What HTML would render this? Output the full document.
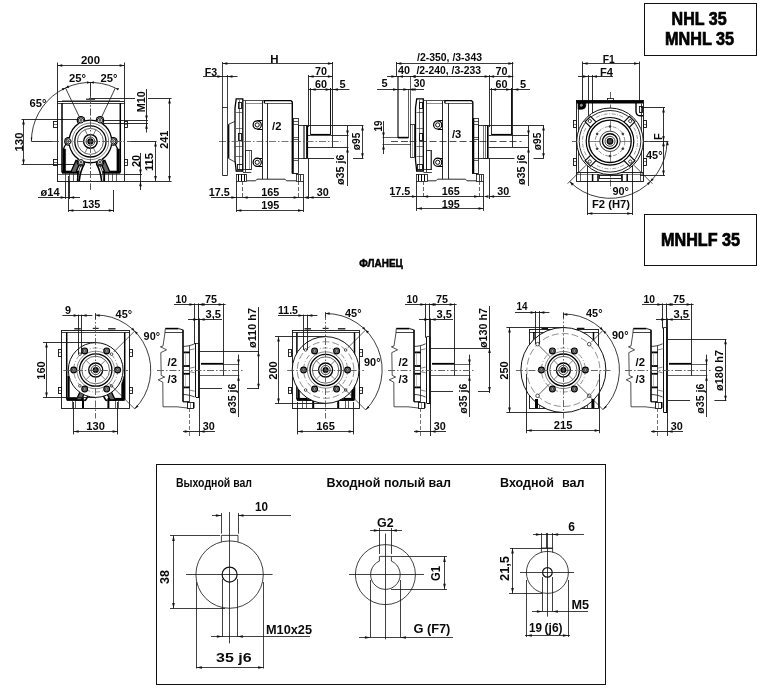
<!DOCTYPE html>
<html><head><meta charset="utf-8"><title>NHL 35</title>
<style>
html,body{margin:0;padding:0;background:#fff;}
body{width:770px;height:696px;overflow:hidden;}
svg{display:block;font-family:"Liberation Sans",sans-serif;opacity:0.999;will-change:transform;}
</style></head><body>
<svg width="770" height="696" viewBox="0 0 770 696">
<rect x="0" y="0" width="770" height="696" fill="#fff"/>
<rect x="644.50" y="3.50" width="112.00" height="52.00" stroke="#111" stroke-width="1.0" fill="none"/>
<text x="699.10" y="24.80" font-size="17.5" text-anchor="middle" font-weight="bold" fill="#000" stroke="#000" stroke-width="0.7" textLength="55" lengthAdjust="spacingAndGlyphs">NHL 35</text>
<text x="699.50" y="45.40" font-size="17.5" text-anchor="middle" font-weight="bold" fill="#000" stroke="#000" stroke-width="0.7" textLength="69" lengthAdjust="spacingAndGlyphs">MNHL 35</text>
<rect x="644.50" y="214.50" width="112.00" height="51.00" stroke="#111" stroke-width="1.0" fill="none"/>
<text x="700.50" y="245.80" font-size="17.5" text-anchor="middle" font-weight="bold" fill="#000" stroke="#000" stroke-width="0.7" textLength="79" lengthAdjust="spacingAndGlyphs">MNHLF 35</text>
<text x="381.10" y="267.20" font-size="11.3" text-anchor="middle" font-weight="bold" fill="#000" stroke="#000" stroke-width="0.5" textLength="43.5" lengthAdjust="spacingAndGlyphs">ФЛАНЕЦ</text>
<line x1="57.50" y1="62.50" x2="57.50" y2="101.00" stroke="#1a1a1a" stroke-width="0.9"/>
<line x1="124.50" y1="62.50" x2="124.50" y2="101.00" stroke="#1a1a1a" stroke-width="0.9"/>
<line x1="57.30" y1="65.50" x2="124.60" y2="65.50" stroke="#1a1a1a" stroke-width="0.85"/>
<polygon points="57.30,65.50 62.30,64.20 62.30,66.80" fill="#111"/>
<polygon points="124.60,65.50 119.60,66.80 119.60,64.20" fill="#111"/>
<text x="90.50" y="64.30" font-size="11" text-anchor="middle" font-weight="bold" fill="#0a0a0a" stroke="#0a0a0a" stroke-width="0.0" textLength="19" lengthAdjust="spacingAndGlyphs">200</text>
<path d="M31.40,141.40 A59.00,59.00 0 0 1 115.33,87.93" stroke="#1a1a1a" stroke-width="0.85" fill="none" />
<polygon points="31.50,141.40 30.70,137.40 32.30,137.40" fill="#111"/>
<polygon points="65.47,87.93 62.84,90.59 61.74,88.23" fill="#111"/>
<polygon points="65.47,87.93 68.09,85.27 69.19,87.63" fill="#111"/>
<polygon points="115.33,87.93 119.06,88.23 117.96,90.59" fill="#111"/>
<polygon points="90.40,82.50 93.90,81.20 93.90,83.80" fill="#111"/>
<polygon points="90.40,82.50 86.90,83.80 86.90,81.20" fill="#111"/>
<line x1="65.47" y1="87.93" x2="81.00" y2="120.40" stroke="#1a1a1a" stroke-width="0.85"/>
<line x1="115.33" y1="87.93" x2="100.00" y2="120.40" stroke="#1a1a1a" stroke-width="0.85"/>
<line x1="90.50" y1="82.00" x2="90.50" y2="96.00" stroke="#1a1a1a" stroke-width="0.9"/>
<line x1="31.50" y1="141.50" x2="52.00" y2="141.50" stroke="#1a1a1a" stroke-width="0.9"/>
<text x="69.00" y="82.40" font-size="11" text-anchor="start" font-weight="bold" fill="#0a0a0a" stroke="#0a0a0a" stroke-width="0.0" textLength="17" lengthAdjust="spacingAndGlyphs">25°</text>
<text x="100.60" y="82.40" font-size="11" text-anchor="start" font-weight="bold" fill="#0a0a0a" stroke="#0a0a0a" stroke-width="0.0" textLength="17" lengthAdjust="spacingAndGlyphs">25°</text>
<text x="29.60" y="106.80" font-size="11" text-anchor="start" font-weight="bold" fill="#0a0a0a" stroke="#0a0a0a" stroke-width="0.0" textLength="17" lengthAdjust="spacingAndGlyphs">65°</text>
<line x1="90.50" y1="96.00" x2="90.50" y2="190.00" stroke="#555" stroke-width="0.9" stroke-dasharray="7 2 1.5 2"/>
<line x1="52.00" y1="141.50" x2="131.00" y2="141.50" stroke="#555" stroke-width="0.9" stroke-dasharray="7 2 1.5 2"/>
<line x1="21.50" y1="119.50" x2="80.00" y2="119.50" stroke="#1a1a1a" stroke-width="0.9"/>
<line x1="21.50" y1="164.50" x2="74.00" y2="164.50" stroke="#1a1a1a" stroke-width="0.9"/>
<line x1="23.50" y1="119.40" x2="23.50" y2="164.60" stroke="#1a1a1a" stroke-width="0.85"/>
<polygon points="23.50,119.40 24.80,124.40 22.20,124.40" fill="#111"/>
<polygon points="23.50,164.60 22.20,159.60 24.80,159.60" fill="#111"/>
<text x="22.60" y="142.00" font-size="11" text-anchor="middle" font-weight="bold" fill="#0a0a0a" stroke="#0a0a0a" stroke-width="0.0" transform="rotate(-90 22.60 142.00)" textLength="19" lengthAdjust="spacingAndGlyphs">130</text>
<line x1="89.00" y1="98.50" x2="135.00" y2="98.50" stroke="#1a1a1a" stroke-width="0.9"/>
<line x1="148.00" y1="98.50" x2="171.50" y2="98.50" stroke="#1a1a1a" stroke-width="0.9"/>
<line x1="101.00" y1="120.50" x2="148.00" y2="120.50" stroke="#1a1a1a" stroke-width="0.9"/>
<line x1="101.00" y1="123.50" x2="148.00" y2="123.50" stroke="#1a1a1a" stroke-width="0.9"/>
<line x1="146.50" y1="89.00" x2="146.50" y2="132.50" stroke="#1a1a1a" stroke-width="0.9"/>
<polygon points="146.50,120.40 145.20,115.40 147.80,115.40" fill="#111"/>
<polygon points="146.50,123.80 147.80,128.80 145.20,128.80" fill="#111"/>
<text x="145.40" y="101.70" font-size="11" text-anchor="middle" font-weight="bold" fill="#0a0a0a" stroke="#0a0a0a" stroke-width="0.0" transform="rotate(-90 145.40 101.70)" textLength="21" lengthAdjust="spacingAndGlyphs">M10</text>
<line x1="169.50" y1="98.40" x2="169.50" y2="181.00" stroke="#1a1a1a" stroke-width="0.85"/>
<polygon points="169.50,98.40 170.80,103.40 168.20,103.40" fill="#111"/>
<polygon points="169.50,181.00 168.20,176.00 170.80,176.00" fill="#111"/>
<line x1="124.60" y1="181.50" x2="171.50" y2="181.50" stroke="#1a1a1a" stroke-width="0.9"/>
<text x="167.80" y="139.70" font-size="11" text-anchor="middle" font-weight="bold" fill="#0a0a0a" stroke="#0a0a0a" stroke-width="0.0" transform="rotate(-90 167.80 139.70)" textLength="18" lengthAdjust="spacingAndGlyphs">241</text>
<line x1="131.00" y1="141.50" x2="156.50" y2="141.50" stroke="#1a1a1a" stroke-width="0.9"/>
<line x1="155.50" y1="141.40" x2="155.50" y2="181.00" stroke="#1a1a1a" stroke-width="0.85"/>
<polygon points="155.50,141.40 156.80,146.40 154.20,146.40" fill="#111"/>
<polygon points="155.50,181.00 154.20,176.00 156.80,176.00" fill="#111"/>
<text x="153.20" y="162.00" font-size="11" text-anchor="middle" font-weight="bold" fill="#0a0a0a" stroke="#0a0a0a" stroke-width="0.0" transform="rotate(-90 153.20 162.00)" textLength="18" lengthAdjust="spacingAndGlyphs">115</text>
<line x1="124.60" y1="174.50" x2="142.00" y2="174.50" stroke="#1a1a1a" stroke-width="0.9"/>
<line x1="140.50" y1="153.00" x2="140.50" y2="190.00" stroke="#1a1a1a" stroke-width="0.9"/>
<polygon points="140.50,174.40 139.20,169.40 141.80,169.40" fill="#111"/>
<polygon points="140.50,181.20 141.80,186.20 139.20,186.20" fill="#111"/>
<text x="139.80" y="161.00" font-size="11" text-anchor="middle" font-weight="bold" fill="#0a0a0a" stroke="#0a0a0a" stroke-width="0.0" transform="rotate(-90 139.80 161.00)" textLength="12" lengthAdjust="spacingAndGlyphs">20</text>
<line x1="38.00" y1="197.50" x2="80.00" y2="197.50" stroke="#1a1a1a" stroke-width="0.9"/>
<line x1="65.50" y1="181.00" x2="65.50" y2="199.00" stroke="#1a1a1a" stroke-width="0.9"/>
<line x1="69.50" y1="181.00" x2="69.50" y2="199.00" stroke="#1a1a1a" stroke-width="0.9"/>
<polygon points="65.60,197.50 60.60,198.80 60.60,196.20" fill="#111"/>
<polygon points="69.20,197.50 74.20,196.20 74.20,198.80" fill="#111"/>
<text x="40.60" y="196.40" font-size="11" text-anchor="start" font-weight="bold" fill="#0a0a0a" stroke="#0a0a0a" stroke-width="0.0" textLength="19" lengthAdjust="spacingAndGlyphs">ø14</text>
<line x1="68.50" y1="176.00" x2="68.50" y2="212.00" stroke="#1a1a1a" stroke-width="0.9"/>
<line x1="113.50" y1="190.00" x2="113.50" y2="212.00" stroke="#1a1a1a" stroke-width="0.9"/>
<line x1="68.40" y1="210.50" x2="113.80" y2="210.50" stroke="#1a1a1a" stroke-width="0.85"/>
<polygon points="68.40,210.50 73.40,209.20 73.40,211.80" fill="#111"/>
<polygon points="113.80,210.50 108.80,211.80 108.80,209.20" fill="#111"/>
<text x="91.20" y="208.40" font-size="11" text-anchor="middle" font-weight="bold" fill="#0a0a0a" stroke="#0a0a0a" stroke-width="0.0" textLength="18" lengthAdjust="spacingAndGlyphs">135</text>
<rect x="57.50" y="101.50" width="67.00" height="80.00" stroke="#111" stroke-width="0.9" fill="none"/>
<line x1="57.30" y1="103.50" x2="124.60" y2="103.50" stroke="#111" stroke-width="0.8"/>
<line x1="86.00" y1="99.20" x2="95.00" y2="99.20" stroke="#222" stroke-width="1.2"/>
<line x1="62.00" y1="100.50" x2="120.00" y2="100.50" stroke="#444" stroke-width="0.6"/>
<line x1="62.00" y1="103.00" x2="62.00" y2="172.50" stroke="#000" stroke-width="1.5"/>
<line x1="120.30" y1="103.00" x2="120.30" y2="172.50" stroke="#000" stroke-width="1.5"/>
<line x1="62.00" y1="172.20" x2="79.50" y2="172.20" stroke="#000" stroke-width="3.0"/>
<line x1="102.50" y1="172.20" x2="120.30" y2="172.20" stroke="#000" stroke-width="3.0"/>
<path d="M63,149 L65.6,149 L65.6,171.5 L63,171.5 Z" stroke="#000" stroke-width="0.5" fill="#000" />
<path d="M119.5,149 L116.9,149 L116.9,171.5 L119.5,171.5 Z" stroke="#000" stroke-width="0.5" fill="#000" />
<rect x="53.50" y="121.50" width="4.00" height="6.00" stroke="#111" stroke-width="0.9" fill="none"/>
<rect x="124.50" y="121.50" width="3.00" height="6.00" stroke="#111" stroke-width="0.9" fill="none"/>
<line x1="54.00" y1="124.50" x2="57.00" y2="124.50" stroke="#1a1a1a" stroke-width="0.6"/>
<line x1="125.00" y1="124.50" x2="127.50" y2="124.50" stroke="#1a1a1a" stroke-width="0.6"/>
<rect x="53.50" y="159.50" width="4.00" height="6.00" stroke="#111" stroke-width="0.9" fill="none"/>
<rect x="124.50" y="159.50" width="3.00" height="6.00" stroke="#111" stroke-width="0.9" fill="none"/>
<line x1="54.00" y1="162.50" x2="57.00" y2="162.50" stroke="#1a1a1a" stroke-width="0.6"/>
<line x1="125.00" y1="162.50" x2="127.50" y2="162.50" stroke="#1a1a1a" stroke-width="0.6"/>
<line x1="57.30" y1="174.50" x2="124.60" y2="174.50" stroke="#1a1a1a" stroke-width="0.7"/>
<line x1="65.50" y1="172.50" x2="65.50" y2="181.00" stroke="#1a1a1a" stroke-width="0.7"/>
<line x1="69.50" y1="172.50" x2="69.50" y2="181.00" stroke="#1a1a1a" stroke-width="0.7"/>
<line x1="77.80" y1="172.50" x2="77.80" y2="181.00" stroke="#000" stroke-width="1.6"/>
<line x1="104.30" y1="172.50" x2="104.30" y2="181.00" stroke="#000" stroke-width="1.6"/>
<line x1="73.50" y1="172.50" x2="73.50" y2="181.00" stroke="#1a1a1a" stroke-width="0.7"/>
<line x1="108.50" y1="172.50" x2="108.50" y2="181.00" stroke="#1a1a1a" stroke-width="0.7"/>
<line x1="112.50" y1="172.50" x2="112.50" y2="181.00" stroke="#1a1a1a" stroke-width="0.7"/>
<line x1="116.50" y1="172.50" x2="116.50" y2="181.00" stroke="#1a1a1a" stroke-width="0.7"/>
<path d="M75.9,160.4 C73.9,165.4 72.4,168.4 70.80000000000001,172.4 L76.0,172.4 C77.0,169.4 78.4,166.4 80.4,162.4 Z" fill="#666" stroke="#000" stroke-width="1.3"/>
<path d="M84.30000000000001,163.9 C81.80000000000001,168.4 79.80000000000001,174.4 79.2,181.0" stroke="#000" stroke-width="1.6" fill="none" />
<path d="M81.4,164.4 C79.4,168.4 77.9,171.4 77.2,181.0" stroke="#111" stroke-width="0.8" fill="none" />
<path d="M104.9,160.4 C106.9,165.4 108.4,168.4 110.0,172.4 L104.80000000000001,172.4 C103.80000000000001,169.4 102.4,166.4 100.4,162.4 Z" fill="#666" stroke="#000" stroke-width="1.3"/>
<path d="M96.5,163.9 C99.0,168.4 101.0,174.4 101.60000000000001,181.0" stroke="#000" stroke-width="1.6" fill="none" />
<path d="M99.4,164.4 C101.4,168.4 102.9,171.4 103.60000000000001,181.0" stroke="#111" stroke-width="0.8" fill="none" />
<circle cx="81.00" cy="120.40" r="4.30" stroke="#000" stroke-width="0" fill="#000"/>
<circle cx="100.00" cy="120.40" r="4.30" stroke="#000" stroke-width="0" fill="#000"/>
<circle cx="113.40" cy="141.40" r="4.30" stroke="#000" stroke-width="0" fill="#000"/>
<circle cx="100.00" cy="162.20" r="4.30" stroke="#000" stroke-width="0" fill="#000"/>
<circle cx="81.00" cy="162.20" r="4.30" stroke="#000" stroke-width="0" fill="#000"/>
<circle cx="68.40" cy="141.40" r="4.30" stroke="#000" stroke-width="0" fill="#000"/>
<circle cx="90.40" cy="141.40" r="22.00" stroke="#000" stroke-width="0" fill="#000"/>
<circle cx="81.00" cy="120.40" r="3.10" stroke="#fff" stroke-width="0" fill="#fff"/>
<circle cx="100.00" cy="120.40" r="3.10" stroke="#fff" stroke-width="0" fill="#fff"/>
<circle cx="113.40" cy="141.40" r="3.10" stroke="#fff" stroke-width="0" fill="#fff"/>
<circle cx="100.00" cy="162.20" r="3.10" stroke="#fff" stroke-width="0" fill="#fff"/>
<circle cx="81.00" cy="162.20" r="3.10" stroke="#fff" stroke-width="0" fill="#fff"/>
<circle cx="68.40" cy="141.40" r="3.10" stroke="#fff" stroke-width="0" fill="#fff"/>
<circle cx="90.40" cy="141.40" r="20.70" stroke="#fff" stroke-width="0" fill="#fff"/>
<circle cx="81.00" cy="120.40" r="2.60" stroke="#000" stroke-width="1.0" fill="#fff"/>
<circle cx="81.00" cy="120.40" r="1.00" stroke="#111" stroke-width="0.7" fill="#999"/>
<circle cx="100.00" cy="120.40" r="2.60" stroke="#000" stroke-width="1.0" fill="#fff"/>
<circle cx="100.00" cy="120.40" r="1.00" stroke="#111" stroke-width="0.7" fill="#999"/>
<circle cx="113.40" cy="141.40" r="2.60" stroke="#000" stroke-width="1.0" fill="#fff"/>
<circle cx="113.40" cy="141.40" r="1.00" stroke="#111" stroke-width="0.7" fill="#999"/>
<circle cx="100.00" cy="162.20" r="2.60" stroke="#000" stroke-width="1.0" fill="#fff"/>
<circle cx="100.00" cy="162.20" r="1.00" stroke="#111" stroke-width="0.7" fill="#999"/>
<circle cx="81.00" cy="162.20" r="2.60" stroke="#000" stroke-width="1.0" fill="#fff"/>
<circle cx="81.00" cy="162.20" r="1.00" stroke="#111" stroke-width="0.7" fill="#999"/>
<circle cx="68.40" cy="141.40" r="2.60" stroke="#000" stroke-width="1.0" fill="#fff"/>
<circle cx="68.40" cy="141.40" r="1.00" stroke="#111" stroke-width="0.7" fill="#999"/>
<circle cx="90.40" cy="141.40" r="18.30" stroke="#333" stroke-width="0.6" fill="none"/>
<circle cx="90.40" cy="141.40" r="15.60" stroke="#000" stroke-width="1.3" fill="none"/>
<circle cx="90.40" cy="141.40" r="13.00" stroke="#222" stroke-width="0.7" fill="none"/>
<circle cx="90.40" cy="141.40" r="6.80" stroke="#000" stroke-width="1.4" fill="none"/>
<circle cx="90.40" cy="141.40" r="4.40" stroke="#111" stroke-width="0.8" fill="none"/>
<circle cx="90.40" cy="141.40" r="2.40" stroke="#000" stroke-width="1.4" fill="#444"/>
<line x1="87.44" y1="135.06" x2="84.91" y2="129.62" stroke="#222" stroke-width="0.6"/>
<line x1="93.36" y1="135.06" x2="95.89" y2="129.62" stroke="#222" stroke-width="0.6"/>
<line x1="93.36" y1="147.74" x2="95.89" y2="153.18" stroke="#222" stroke-width="0.6"/>
<line x1="87.44" y1="147.74" x2="84.91" y2="153.18" stroke="#222" stroke-width="0.6"/>
<path d="M66,144 C64.6,146 63.6,148 63.2,150" stroke="#000" stroke-width="1.3" fill="none" />
<path d="M115,144 C116.4,146 117.4,148 117.8,150" stroke="#000" stroke-width="1.3" fill="none" />
<line x1="90.50" y1="96.00" x2="90.50" y2="190.00" stroke="#555" stroke-width="0.9" stroke-dasharray="7 2 1.5 2"/>
<line x1="52.00" y1="141.50" x2="131.00" y2="141.50" stroke="#555" stroke-width="0.9" stroke-dasharray="7 2 1.5 2"/>
<path d="M236.2,98.8 L242.8,98.8 L242.8,171 L236.2,171 L235,160 L235,108 Z" stroke="#000" stroke-width="1.3" fill="none" />
<line x1="239.50" y1="100.00" x2="239.50" y2="170.00" stroke="#1a1a1a" stroke-width="0.6"/>
<rect x="238.50" y="102.50" width="3.00" height="6.00" stroke="#111" stroke-width="0.9" fill="none"/>
<rect x="238.50" y="133.50" width="3.00" height="7.00" stroke="#111" stroke-width="0.9" fill="none"/>
<rect x="237.50" y="164.50" width="5.00" height="5.00" stroke="#111" stroke-width="0.9" fill="none"/>
<line x1="236.00" y1="112.50" x2="242.80" y2="112.50" stroke="#1a1a1a" stroke-width="0.6"/>
<line x1="236.00" y1="128.50" x2="242.80" y2="128.50" stroke="#1a1a1a" stroke-width="0.6"/>
<line x1="236.00" y1="146.50" x2="242.80" y2="146.50" stroke="#1a1a1a" stroke-width="0.6"/>
<line x1="236.00" y1="156.50" x2="242.80" y2="156.50" stroke="#1a1a1a" stroke-width="0.6"/>
<line x1="243.00" y1="100.50" x2="264.00" y2="100.50" stroke="#222" stroke-width="0.8"/>
<line x1="246.00" y1="103.50" x2="262.40" y2="103.50" stroke="#444" stroke-width="0.6"/>
<line x1="245.50" y1="100.80" x2="245.50" y2="172.00" stroke="#111" stroke-width="0.8"/>
<line x1="262.50" y1="101.00" x2="262.50" y2="179.00" stroke="#111" stroke-width="0.9"/>
<line x1="267.50" y1="103.00" x2="267.50" y2="179.00" stroke="#111" stroke-width="0.9"/>
<path d="M264.4,103.2 L264.4,100.6 L291,100.6 L292.3,102 L292.3,173.5" stroke="#000" stroke-width="1.4" fill="none" />
<line x1="264.40" y1="103.50" x2="292.00" y2="103.50" stroke="#1a1a1a" stroke-width="0.7"/>
<circle cx="257.20" cy="124.90" r="4.10" stroke="#000" stroke-width="1.2" fill="none"/>
<circle cx="257.20" cy="124.90" r="2.10" stroke="#111" stroke-width="1.0" fill="none"/>
<line x1="257.20" y1="120.50" x2="262.40" y2="120.50" stroke="#000" stroke-width="1.0"/>
<line x1="257.20" y1="129.50" x2="262.40" y2="129.50" stroke="#000" stroke-width="1.0"/>
<circle cx="257.20" cy="162.30" r="4.10" stroke="#000" stroke-width="1.2" fill="none"/>
<circle cx="257.20" cy="162.30" r="2.10" stroke="#111" stroke-width="1.0" fill="none"/>
<line x1="257.20" y1="158.50" x2="262.40" y2="158.50" stroke="#000" stroke-width="1.0"/>
<line x1="257.20" y1="166.50" x2="262.40" y2="166.50" stroke="#000" stroke-width="1.0"/>
<rect x="245.50" y="150.50" width="6.00" height="19.00" stroke="#111" stroke-width="0.8" fill="none"/>
<line x1="249.50" y1="151.00" x2="249.50" y2="169.00" stroke="#555" stroke-width="0.5"/>
<line x1="243.00" y1="172.50" x2="251.40" y2="172.50" stroke="#1a1a1a" stroke-width="0.8"/>
<line x1="243.00" y1="169.50" x2="251.40" y2="169.50" stroke="#1a1a1a" stroke-width="0.8"/>
<rect x="292.50" y="118.50" width="6.00" height="55.00" stroke="#111" stroke-width="0.8" fill="none"/>
<line x1="293.00" y1="118.40" x2="293.00" y2="173.60" stroke="#000" stroke-width="1.5"/>
<line x1="292.30" y1="121.50" x2="298.00" y2="121.50" stroke="#1a1a1a" stroke-width="0.7"/>
<line x1="292.30" y1="124.50" x2="298.00" y2="124.50" stroke="#1a1a1a" stroke-width="0.7"/>
<line x1="292.30" y1="137.50" x2="298.00" y2="137.50" stroke="#1a1a1a" stroke-width="0.7"/>
<line x1="292.30" y1="139.50" x2="298.00" y2="139.50" stroke="#1a1a1a" stroke-width="0.7"/>
<line x1="292.30" y1="158.50" x2="298.00" y2="158.50" stroke="#1a1a1a" stroke-width="0.7"/>
<line x1="292.30" y1="160.50" x2="298.00" y2="160.50" stroke="#1a1a1a" stroke-width="0.7"/>
<rect x="298.50" y="125.50" width="8.00" height="33.00" stroke="#111" stroke-width="0.8" fill="none"/>
<line x1="303.50" y1="125.50" x2="303.50" y2="158.00" stroke="#1a1a1a" stroke-width="0.6"/>
<line x1="304.50" y1="125.50" x2="304.50" y2="158.00" stroke="#1a1a1a" stroke-width="0.6"/>
<line x1="307.30" y1="125.50" x2="307.30" y2="158.00" stroke="#000" stroke-width="1.6"/>
<rect x="236.50" y="174.50" width="10.00" height="7.00" stroke="#111" stroke-width="0.8" fill="none"/>
<line x1="238.50" y1="174.50" x2="238.50" y2="181.00" stroke="#000" stroke-width="1.0"/>
<line x1="241.50" y1="174.50" x2="241.50" y2="181.00" stroke="#000" stroke-width="1.0"/>
<line x1="244.50" y1="174.50" x2="244.50" y2="181.00" stroke="#000" stroke-width="1.0"/>
<rect x="296.50" y="174.50" width="7.00" height="7.00" stroke="#111" stroke-width="0.8" fill="none"/>
<line x1="298.50" y1="174.50" x2="298.50" y2="181.00" stroke="#111" stroke-width="0.8"/>
<line x1="300.50" y1="174.50" x2="300.50" y2="181.00" stroke="#111" stroke-width="0.8"/>
<path d="M246.8,180.8 L255.5,180.8 L257,179.2 L285,179.2 L286.5,180.8 L296.2,180.8" stroke="#111" stroke-width="0.9" fill="none" />
<line x1="292.30" y1="173.50" x2="298.00" y2="173.50" stroke="#1a1a1a" stroke-width="0.8"/>
<text x="272.10" y="129.80" font-size="11.5" text-anchor="start" font-weight="bold" fill="#0a0a0a" stroke="#0a0a0a" stroke-width="0.0" textLength="9.3" lengthAdjust="spacingAndGlyphs">/2</text>
<line x1="310.60" y1="134.80" x2="330.60" y2="134.80" stroke="#000" stroke-width="1.8"/>
<line x1="308.00" y1="147.50" x2="348.50" y2="147.50" stroke="#1a1a1a" stroke-width="0.9"/>
<line x1="308.00" y1="135.50" x2="310.60" y2="135.50" stroke="#1a1a1a" stroke-width="0.9"/>
<line x1="303.00" y1="125.50" x2="363.50" y2="125.50" stroke="#1a1a1a" stroke-width="0.9"/>
<line x1="303.00" y1="158.50" x2="334.00" y2="158.50" stroke="#1a1a1a" stroke-width="0.9"/>
<line x1="330.60" y1="135.50" x2="348.50" y2="135.50" stroke="#1a1a1a" stroke-width="0.9"/>
<line x1="308.50" y1="75.00" x2="308.50" y2="127.00" stroke="#1a1a1a" stroke-width="0.9"/>
<line x1="308.50" y1="158.00" x2="308.50" y2="199.00" stroke="#1a1a1a" stroke-width="0.9"/>
<line x1="310.50" y1="88.00" x2="310.50" y2="135.00" stroke="#1a1a1a" stroke-width="0.9"/>
<line x1="330.50" y1="88.00" x2="330.50" y2="135.00" stroke="#111" stroke-width="1.0"/>
<line x1="332.50" y1="62.00" x2="332.50" y2="147.20" stroke="#1a1a1a" stroke-width="0.9"/>
<line x1="308.60" y1="76.50" x2="332.90" y2="76.50" stroke="#1a1a1a" stroke-width="0.85"/>
<polygon points="308.60,76.50 313.60,75.20 313.60,77.80" fill="#111"/>
<polygon points="332.90,76.50 327.90,77.80 327.90,75.20" fill="#111"/>
<text x="321.00" y="75.00" font-size="11" text-anchor="middle" font-weight="bold" fill="#0a0a0a" stroke="#0a0a0a" stroke-width="0.0" textLength="12" lengthAdjust="spacingAndGlyphs">70</text>
<line x1="308.60" y1="89.50" x2="349.50" y2="89.50" stroke="#1a1a1a" stroke-width="0.9"/>
<polygon points="310.60,89.50 315.60,88.20 315.60,90.80" fill="#111"/>
<polygon points="330.60,89.50 325.60,90.80 325.60,88.20" fill="#111"/>
<polygon points="332.90,89.50 337.90,88.20 337.90,90.80" fill="#111"/>
<text x="321.00" y="88.00" font-size="11" text-anchor="middle" font-weight="bold" fill="#0a0a0a" stroke="#0a0a0a" stroke-width="0.0" textLength="12" lengthAdjust="spacingAndGlyphs">60</text>
<text x="342.50" y="88.00" font-size="11" text-anchor="middle" font-weight="bold" fill="#0a0a0a" stroke="#0a0a0a" stroke-width="0.0">5</text>
<line x1="362.50" y1="125.40" x2="362.50" y2="158.20" stroke="#1a1a1a" stroke-width="0.85"/>
<polygon points="362.50,125.40 363.80,130.40 361.20,130.40" fill="#111"/>
<polygon points="362.50,158.20 361.20,153.20 363.80,153.20" fill="#111"/>
<line x1="353.00" y1="158.50" x2="363.50" y2="158.50" stroke="#1a1a1a" stroke-width="0.9"/>
<text x="360.20" y="141.40" font-size="11" text-anchor="middle" font-weight="bold" fill="#0a0a0a" stroke="#0a0a0a" stroke-width="0.0" transform="rotate(-90 360.20 141.40)" textLength="17.5" lengthAdjust="spacingAndGlyphs">ø95</text>
<line x1="347.50" y1="125.50" x2="347.50" y2="186.00" stroke="#1a1a1a" stroke-width="0.9"/>
<polygon points="347.50,135.40 346.20,130.40 348.80,130.40" fill="#111"/>
<polygon points="347.50,147.60 348.80,152.60 346.20,152.60" fill="#111"/>
<text x="344.50" y="169.80" font-size="11" text-anchor="middle" font-weight="bold" fill="#0a0a0a" stroke="#0a0a0a" stroke-width="0.0" transform="rotate(-90 344.50 169.80)" textLength="30.5" lengthAdjust="spacingAndGlyphs">ø35 j6</text>
<line x1="236.50" y1="181.00" x2="236.50" y2="212.00" stroke="#1a1a1a" stroke-width="0.9"/>
<line x1="303.50" y1="181.00" x2="303.50" y2="212.00" stroke="#1a1a1a" stroke-width="0.9"/>
<line x1="242.50" y1="181.00" x2="242.50" y2="199.00" stroke="#222" stroke-width="0.7" stroke-dasharray="4 2"/>
<line x1="298.50" y1="181.00" x2="298.50" y2="199.00" stroke="#222" stroke-width="0.7" stroke-dasharray="4 2"/>
<line x1="211.00" y1="197.50" x2="303.00" y2="197.50" stroke="#1a1a1a" stroke-width="0.9"/>
<line x1="308.60" y1="197.50" x2="330.00" y2="197.50" stroke="#1a1a1a" stroke-width="0.9"/>
<polygon points="236.40,197.50 231.40,198.80 231.40,196.20" fill="#111"/>
<polygon points="242.60,197.50 247.60,196.20 247.60,198.80" fill="#111"/>
<polygon points="298.60,197.50 293.60,198.80 293.60,196.20" fill="#111"/>
<polygon points="303.00,197.50 308.00,196.20 308.00,198.80" fill="#111"/>
<polygon points="308.60,197.50 313.60,196.20 313.60,198.80" fill="#111"/>
<line x1="236.40" y1="210.50" x2="303.00" y2="210.50" stroke="#1a1a1a" stroke-width="0.85"/>
<polygon points="236.40,210.50 241.40,209.20 241.40,211.80" fill="#111"/>
<polygon points="303.00,210.50 298.00,211.80 298.00,209.20" fill="#111"/>
<text x="219.30" y="196.00" font-size="11" text-anchor="middle" font-weight="bold" fill="#0a0a0a" stroke="#0a0a0a" stroke-width="0.0" textLength="21" lengthAdjust="spacingAndGlyphs">17.5</text>
<text x="270.20" y="196.00" font-size="11" text-anchor="middle" font-weight="bold" fill="#0a0a0a" stroke="#0a0a0a" stroke-width="0.0" textLength="18" lengthAdjust="spacingAndGlyphs">165</text>
<text x="270.20" y="209.00" font-size="11" text-anchor="middle" font-weight="bold" fill="#0a0a0a" stroke="#0a0a0a" stroke-width="0.0" textLength="18" lengthAdjust="spacingAndGlyphs">195</text>
<text x="322.80" y="196.00" font-size="11" text-anchor="middle" font-weight="bold" fill="#0a0a0a" stroke="#0a0a0a" stroke-width="0.0" textLength="12" lengthAdjust="spacingAndGlyphs">30</text>
<line x1="219.00" y1="141.50" x2="341.00" y2="141.50" stroke="#555" stroke-width="0.8" stroke-dasharray="7 2 1.5 2"/>
<line x1="222.50" y1="62.00" x2="222.50" y2="175.40" stroke="#111" stroke-width="0.8"/>
<line x1="227.50" y1="75.00" x2="227.50" y2="175.40" stroke="#111" stroke-width="0.8"/>
<line x1="222.40" y1="107.50" x2="227.50" y2="107.50" stroke="#111" stroke-width="0.8"/>
<line x1="222.40" y1="175.50" x2="227.50" y2="175.50" stroke="#111" stroke-width="0.9"/>
<line x1="228.70" y1="124.20" x2="228.70" y2="158.60" stroke="#000" stroke-width="1.3"/>
<line x1="228.70" y1="124.20" x2="235.00" y2="121.40" stroke="#111" stroke-width="0.8"/>
<line x1="228.70" y1="158.60" x2="235.00" y2="162.00" stroke="#111" stroke-width="0.8"/>
<line x1="222.40" y1="63.50" x2="332.90" y2="63.50" stroke="#1a1a1a" stroke-width="0.85"/>
<polygon points="222.40,63.50 227.40,62.20 227.40,64.80" fill="#111"/>
<polygon points="332.90,63.50 327.90,64.80 327.90,62.20" fill="#111"/>
<text x="274.40" y="63.00" font-size="11.5" text-anchor="middle" font-weight="bold" fill="#0a0a0a" stroke="#0a0a0a" stroke-width="0.0">H</text>
<line x1="203.00" y1="76.50" x2="237.50" y2="76.50" stroke="#1a1a1a" stroke-width="0.9"/>
<polygon points="222.40,76.50 217.40,77.80 217.40,75.20" fill="#111"/>
<polygon points="227.50,76.50 232.50,75.20 232.50,77.80" fill="#111"/>
<text x="204.80" y="76.00" font-size="11.5" text-anchor="start" font-weight="bold" fill="#0a0a0a" stroke="#0a0a0a" stroke-width="0.0" textLength="12.4" lengthAdjust="spacingAndGlyphs">F3</text>
<path d="M416.7,98.8 L423.3,98.8 L423.3,171 L416.7,171 L415.5,160 L415.5,108 Z" stroke="#000" stroke-width="1.3" fill="none" />
<line x1="419.50" y1="100.00" x2="419.50" y2="170.00" stroke="#1a1a1a" stroke-width="0.6"/>
<rect x="419.50" y="102.50" width="3.00" height="6.00" stroke="#111" stroke-width="0.9" fill="none"/>
<rect x="419.50" y="133.50" width="3.00" height="7.00" stroke="#111" stroke-width="0.9" fill="none"/>
<rect x="417.50" y="164.50" width="5.00" height="5.00" stroke="#111" stroke-width="0.9" fill="none"/>
<line x1="416.50" y1="112.50" x2="423.30" y2="112.50" stroke="#1a1a1a" stroke-width="0.6"/>
<line x1="416.50" y1="128.50" x2="423.30" y2="128.50" stroke="#1a1a1a" stroke-width="0.6"/>
<line x1="416.50" y1="146.50" x2="423.30" y2="146.50" stroke="#1a1a1a" stroke-width="0.6"/>
<line x1="416.50" y1="156.50" x2="423.30" y2="156.50" stroke="#1a1a1a" stroke-width="0.6"/>
<line x1="423.50" y1="100.50" x2="444.50" y2="100.50" stroke="#222" stroke-width="0.8"/>
<line x1="426.50" y1="103.50" x2="442.90" y2="103.50" stroke="#444" stroke-width="0.6"/>
<line x1="426.50" y1="100.80" x2="426.50" y2="172.00" stroke="#111" stroke-width="0.8"/>
<line x1="442.50" y1="101.00" x2="442.50" y2="179.00" stroke="#111" stroke-width="0.9"/>
<line x1="448.50" y1="103.00" x2="448.50" y2="179.00" stroke="#111" stroke-width="0.9"/>
<path d="M444.9,103.2 L444.9,100.6 L471.5,100.6 L472.8,102 L472.8,173.5" stroke="#000" stroke-width="1.4" fill="none" />
<line x1="444.90" y1="103.50" x2="472.50" y2="103.50" stroke="#1a1a1a" stroke-width="0.7"/>
<circle cx="437.70" cy="124.90" r="4.10" stroke="#000" stroke-width="1.2" fill="none"/>
<circle cx="437.70" cy="124.90" r="2.10" stroke="#111" stroke-width="1.0" fill="none"/>
<line x1="437.70" y1="120.50" x2="442.90" y2="120.50" stroke="#000" stroke-width="1.0"/>
<line x1="437.70" y1="129.50" x2="442.90" y2="129.50" stroke="#000" stroke-width="1.0"/>
<circle cx="437.70" cy="162.30" r="4.10" stroke="#000" stroke-width="1.2" fill="none"/>
<circle cx="437.70" cy="162.30" r="2.10" stroke="#111" stroke-width="1.0" fill="none"/>
<line x1="437.70" y1="158.50" x2="442.90" y2="158.50" stroke="#000" stroke-width="1.0"/>
<line x1="437.70" y1="166.50" x2="442.90" y2="166.50" stroke="#000" stroke-width="1.0"/>
<rect x="426.50" y="150.50" width="5.00" height="19.00" stroke="#111" stroke-width="0.8" fill="none"/>
<line x1="430.50" y1="151.00" x2="430.50" y2="169.00" stroke="#555" stroke-width="0.5"/>
<line x1="423.50" y1="172.50" x2="431.90" y2="172.50" stroke="#1a1a1a" stroke-width="0.8"/>
<line x1="423.50" y1="169.50" x2="431.90" y2="169.50" stroke="#1a1a1a" stroke-width="0.8"/>
<rect x="472.50" y="118.50" width="6.00" height="55.00" stroke="#111" stroke-width="0.8" fill="none"/>
<line x1="473.50" y1="118.40" x2="473.50" y2="173.60" stroke="#000" stroke-width="1.5"/>
<line x1="472.80" y1="121.50" x2="478.50" y2="121.50" stroke="#1a1a1a" stroke-width="0.7"/>
<line x1="472.80" y1="124.50" x2="478.50" y2="124.50" stroke="#1a1a1a" stroke-width="0.7"/>
<line x1="472.80" y1="137.50" x2="478.50" y2="137.50" stroke="#1a1a1a" stroke-width="0.7"/>
<line x1="472.80" y1="139.50" x2="478.50" y2="139.50" stroke="#1a1a1a" stroke-width="0.7"/>
<line x1="472.80" y1="158.50" x2="478.50" y2="158.50" stroke="#1a1a1a" stroke-width="0.7"/>
<line x1="472.80" y1="160.50" x2="478.50" y2="160.50" stroke="#1a1a1a" stroke-width="0.7"/>
<rect x="478.50" y="125.50" width="9.00" height="33.00" stroke="#111" stroke-width="0.8" fill="none"/>
<line x1="483.50" y1="125.50" x2="483.50" y2="158.00" stroke="#1a1a1a" stroke-width="0.6"/>
<line x1="485.50" y1="125.50" x2="485.50" y2="158.00" stroke="#1a1a1a" stroke-width="0.6"/>
<line x1="487.80" y1="125.50" x2="487.80" y2="158.00" stroke="#000" stroke-width="1.6"/>
<rect x="416.50" y="174.50" width="11.00" height="7.00" stroke="#111" stroke-width="0.8" fill="none"/>
<line x1="418.50" y1="174.50" x2="418.50" y2="181.00" stroke="#000" stroke-width="1.0"/>
<line x1="421.50" y1="174.50" x2="421.50" y2="181.00" stroke="#000" stroke-width="1.0"/>
<line x1="424.50" y1="174.50" x2="424.50" y2="181.00" stroke="#000" stroke-width="1.0"/>
<rect x="476.50" y="174.50" width="7.00" height="7.00" stroke="#111" stroke-width="0.8" fill="none"/>
<line x1="479.50" y1="174.50" x2="479.50" y2="181.00" stroke="#111" stroke-width="0.8"/>
<line x1="481.50" y1="174.50" x2="481.50" y2="181.00" stroke="#111" stroke-width="0.8"/>
<path d="M427.3,180.8 L436.0,180.8 L437.5,179.2 L465.5,179.2 L467.0,180.8 L476.7,180.8" stroke="#111" stroke-width="0.9" fill="none" />
<line x1="472.80" y1="173.50" x2="478.50" y2="173.50" stroke="#1a1a1a" stroke-width="0.8"/>
<text x="451.90" y="138.00" font-size="11.5" text-anchor="start" font-weight="bold" fill="#0a0a0a" stroke="#0a0a0a" stroke-width="0.0" textLength="9.3" lengthAdjust="spacingAndGlyphs">/3</text>
<line x1="491.10" y1="134.80" x2="511.10" y2="134.80" stroke="#000" stroke-width="1.8"/>
<line x1="488.50" y1="147.50" x2="529.00" y2="147.50" stroke="#1a1a1a" stroke-width="0.9"/>
<line x1="488.50" y1="135.50" x2="491.10" y2="135.50" stroke="#1a1a1a" stroke-width="0.9"/>
<line x1="483.50" y1="125.50" x2="544.00" y2="125.50" stroke="#1a1a1a" stroke-width="0.9"/>
<line x1="483.50" y1="158.50" x2="514.50" y2="158.50" stroke="#1a1a1a" stroke-width="0.9"/>
<line x1="511.10" y1="135.50" x2="529.00" y2="135.50" stroke="#1a1a1a" stroke-width="0.9"/>
<line x1="489.50" y1="75.00" x2="489.50" y2="127.00" stroke="#1a1a1a" stroke-width="0.9"/>
<line x1="489.50" y1="158.00" x2="489.50" y2="199.00" stroke="#1a1a1a" stroke-width="0.9"/>
<line x1="491.50" y1="88.00" x2="491.50" y2="135.00" stroke="#1a1a1a" stroke-width="0.9"/>
<line x1="511.50" y1="88.00" x2="511.50" y2="135.00" stroke="#111" stroke-width="1.0"/>
<line x1="512.50" y1="62.00" x2="512.50" y2="147.20" stroke="#1a1a1a" stroke-width="0.9"/>
<line x1="489.10" y1="76.50" x2="513.40" y2="76.50" stroke="#1a1a1a" stroke-width="0.85"/>
<polygon points="489.10,76.50 494.10,75.20 494.10,77.80" fill="#111"/>
<polygon points="513.40,76.50 508.40,77.80 508.40,75.20" fill="#111"/>
<text x="501.50" y="75.00" font-size="11" text-anchor="middle" font-weight="bold" fill="#0a0a0a" stroke="#0a0a0a" stroke-width="0.0" textLength="12" lengthAdjust="spacingAndGlyphs">70</text>
<line x1="489.10" y1="89.50" x2="530.00" y2="89.50" stroke="#1a1a1a" stroke-width="0.9"/>
<polygon points="491.10,89.50 496.10,88.20 496.10,90.80" fill="#111"/>
<polygon points="511.10,89.50 506.10,90.80 506.10,88.20" fill="#111"/>
<polygon points="513.40,89.50 518.40,88.20 518.40,90.80" fill="#111"/>
<text x="501.50" y="88.00" font-size="11" text-anchor="middle" font-weight="bold" fill="#0a0a0a" stroke="#0a0a0a" stroke-width="0.0" textLength="12" lengthAdjust="spacingAndGlyphs">60</text>
<text x="523.00" y="88.00" font-size="11" text-anchor="middle" font-weight="bold" fill="#0a0a0a" stroke="#0a0a0a" stroke-width="0.0">5</text>
<line x1="543.50" y1="125.40" x2="543.50" y2="158.20" stroke="#1a1a1a" stroke-width="0.85"/>
<polygon points="543.50,125.40 544.80,130.40 542.20,130.40" fill="#111"/>
<polygon points="543.50,158.20 542.20,153.20 544.80,153.20" fill="#111"/>
<line x1="533.50" y1="158.50" x2="544.00" y2="158.50" stroke="#1a1a1a" stroke-width="0.9"/>
<text x="540.70" y="141.40" font-size="11" text-anchor="middle" font-weight="bold" fill="#0a0a0a" stroke="#0a0a0a" stroke-width="0.0" transform="rotate(-90 540.70 141.40)" textLength="17.5" lengthAdjust="spacingAndGlyphs">ø95</text>
<line x1="528.50" y1="125.50" x2="528.50" y2="186.00" stroke="#1a1a1a" stroke-width="0.9"/>
<polygon points="528.50,135.40 527.20,130.40 529.80,130.40" fill="#111"/>
<polygon points="528.50,147.60 529.80,152.60 527.20,152.60" fill="#111"/>
<text x="525.00" y="169.80" font-size="11" text-anchor="middle" font-weight="bold" fill="#0a0a0a" stroke="#0a0a0a" stroke-width="0.0" transform="rotate(-90 525.00 169.80)" textLength="30.5" lengthAdjust="spacingAndGlyphs">ø35 j6</text>
<line x1="416.50" y1="181.00" x2="416.50" y2="210.90" stroke="#1a1a1a" stroke-width="0.9"/>
<line x1="483.50" y1="181.00" x2="483.50" y2="210.90" stroke="#1a1a1a" stroke-width="0.9"/>
<line x1="423.50" y1="181.00" x2="423.50" y2="197.90" stroke="#222" stroke-width="0.7" stroke-dasharray="4 2"/>
<line x1="479.50" y1="181.00" x2="479.50" y2="197.90" stroke="#222" stroke-width="0.7" stroke-dasharray="4 2"/>
<line x1="391.50" y1="196.50" x2="483.50" y2="196.50" stroke="#1a1a1a" stroke-width="0.9"/>
<line x1="489.10" y1="196.50" x2="510.50" y2="196.50" stroke="#1a1a1a" stroke-width="0.9"/>
<polygon points="416.90,196.50 411.90,197.80 411.90,195.20" fill="#111"/>
<polygon points="423.10,196.50 428.10,195.20 428.10,197.80" fill="#111"/>
<polygon points="479.10,196.50 474.10,197.80 474.10,195.20" fill="#111"/>
<polygon points="483.50,196.50 488.50,195.20 488.50,197.80" fill="#111"/>
<polygon points="489.10,196.50 494.10,195.20 494.10,197.80" fill="#111"/>
<line x1="416.90" y1="208.50" x2="483.50" y2="208.50" stroke="#1a1a1a" stroke-width="0.85"/>
<polygon points="416.90,208.50 421.90,207.20 421.90,209.80" fill="#111"/>
<polygon points="483.50,208.50 478.50,209.80 478.50,207.20" fill="#111"/>
<text x="399.80" y="194.90" font-size="11" text-anchor="middle" font-weight="bold" fill="#0a0a0a" stroke="#0a0a0a" stroke-width="0.0" textLength="21" lengthAdjust="spacingAndGlyphs">17.5</text>
<text x="450.70" y="194.90" font-size="11" text-anchor="middle" font-weight="bold" fill="#0a0a0a" stroke="#0a0a0a" stroke-width="0.0" textLength="18" lengthAdjust="spacingAndGlyphs">165</text>
<text x="450.70" y="207.90" font-size="11" text-anchor="middle" font-weight="bold" fill="#0a0a0a" stroke="#0a0a0a" stroke-width="0.0" textLength="18" lengthAdjust="spacingAndGlyphs">195</text>
<text x="503.30" y="194.90" font-size="11" text-anchor="middle" font-weight="bold" fill="#0a0a0a" stroke="#0a0a0a" stroke-width="0.0" textLength="12" lengthAdjust="spacingAndGlyphs">30</text>
<line x1="409.50" y1="141.50" x2="521.50" y2="141.50" stroke="#222" stroke-width="0.8" stroke-dasharray="7 3"/>
<line x1="396.50" y1="62.00" x2="396.50" y2="76.00" stroke="#1a1a1a" stroke-width="0.9"/>
<line x1="396.40" y1="63.50" x2="513.40" y2="63.50" stroke="#1a1a1a" stroke-width="0.85"/>
<polygon points="396.40,63.50 401.40,62.20 401.40,64.80" fill="#111"/>
<polygon points="513.40,63.50 508.40,64.80 508.40,62.20" fill="#111"/>
<text x="449.50" y="61.40" font-size="11" text-anchor="middle" font-weight="bold" fill="#0a0a0a" stroke="#0a0a0a" stroke-width="0.0" textLength="65" lengthAdjust="spacingAndGlyphs">/2-350, /3-343</text>
<line x1="387.00" y1="76.50" x2="489.60" y2="76.50" stroke="#1a1a1a" stroke-width="0.9"/>
<polygon points="396.40,76.50 391.40,77.80 391.40,75.20" fill="#111"/>
<polygon points="410.60,76.50 415.60,75.20 415.60,77.80" fill="#111"/>
<polygon points="410.60,76.50 415.60,75.20 415.60,77.80" fill="#111"/>
<polygon points="489.60,76.50 484.60,77.80 484.60,75.20" fill="#111"/>
<polygon points="398.00,76.50 403.00,75.20 403.00,77.80" fill="#111"/>
<text x="404.00" y="74.40" font-size="11" text-anchor="middle" font-weight="bold" fill="#0a0a0a" stroke="#0a0a0a" stroke-width="0.0" textLength="12" lengthAdjust="spacingAndGlyphs">40</text>
<text x="448.70" y="74.40" font-size="11" text-anchor="middle" font-weight="bold" fill="#0a0a0a" stroke="#0a0a0a" stroke-width="0.0" textLength="64.5" lengthAdjust="spacingAndGlyphs">/2-240, /3-233</text>
<line x1="377.00" y1="89.50" x2="424.00" y2="89.50" stroke="#1a1a1a" stroke-width="0.9"/>
<polygon points="398.00,89.50 393.00,90.80 393.00,88.20" fill="#111"/>
<polygon points="408.40,89.50 413.40,88.20 413.40,90.80" fill="#111"/>
<polygon points="408.40,89.50 403.40,90.80 403.40,88.20" fill="#111"/>
<polygon points="410.60,89.50 415.60,88.20 415.60,90.80" fill="#111"/>
<text x="384.50" y="87.40" font-size="11" text-anchor="middle" font-weight="bold" fill="#0a0a0a" stroke="#0a0a0a" stroke-width="0.0">5</text>
<text x="419.50" y="87.40" font-size="11" text-anchor="middle" font-weight="bold" fill="#0a0a0a" stroke="#0a0a0a" stroke-width="0.0" textLength="11.5" lengthAdjust="spacingAndGlyphs">30</text>
<line x1="398.00" y1="76.00" x2="398.00" y2="138.00" stroke="#111" stroke-width="1.2"/>
<line x1="408.50" y1="89.00" x2="408.50" y2="138.00" stroke="#1a1a1a" stroke-width="0.7"/>
<line x1="410.50" y1="76.00" x2="410.50" y2="125.00" stroke="#1a1a1a" stroke-width="0.7"/>
<line x1="398.00" y1="137.60" x2="408.40" y2="137.60" stroke="#000" stroke-width="1.6"/>
<line x1="382.50" y1="137.50" x2="398.00" y2="137.50" stroke="#1a1a1a" stroke-width="0.7"/>
<line x1="382.50" y1="144.50" x2="411.00" y2="144.50" stroke="#1a1a1a" stroke-width="0.7"/>
<rect x="410.50" y="124.50" width="4.00" height="33.00" stroke="#111" stroke-width="0.8" fill="none"/>
<line x1="412.50" y1="124.40" x2="412.50" y2="157.40" stroke="#555" stroke-width="0.5"/>
<line x1="383.50" y1="121.00" x2="383.50" y2="154.00" stroke="#1a1a1a" stroke-width="0.9"/>
<polygon points="383.50,137.40 382.20,132.40 384.80,132.40" fill="#111"/>
<polygon points="383.50,144.50 384.80,149.50 382.20,149.50" fill="#111"/>
<text x="381.60" y="126.00" font-size="11" text-anchor="middle" font-weight="bold" fill="#0a0a0a" stroke="#0a0a0a" stroke-width="0.0" transform="rotate(-90 381.60 126.00)" textLength="11" lengthAdjust="spacingAndGlyphs">19</text>
<line x1="391.00" y1="141.50" x2="410.00" y2="141.50" stroke="#222" stroke-width="0.8" stroke-dasharray="7 3"/>
<line x1="582.50" y1="61.50" x2="582.50" y2="101.00" stroke="#1a1a1a" stroke-width="0.9"/>
<line x1="639.50" y1="61.50" x2="639.50" y2="101.00" stroke="#1a1a1a" stroke-width="0.9"/>
<line x1="582.60" y1="63.50" x2="639.00" y2="63.50" stroke="#1a1a1a" stroke-width="0.85"/>
<polygon points="582.60,63.50 587.60,62.20 587.60,64.80" fill="#111"/>
<polygon points="639.00,63.50 634.00,64.80 634.00,62.20" fill="#111"/>
<text x="608.70" y="62.80" font-size="11.5" text-anchor="middle" font-weight="bold" fill="#0a0a0a" stroke="#0a0a0a" stroke-width="0.0" textLength="12" lengthAdjust="spacingAndGlyphs">F1</text>
<line x1="578.00" y1="76.50" x2="613.00" y2="76.50" stroke="#1a1a1a" stroke-width="0.9"/>
<line x1="588.50" y1="75.00" x2="588.50" y2="120.00" stroke="#1a1a1a" stroke-width="0.9"/>
<line x1="592.50" y1="75.00" x2="592.50" y2="120.00" stroke="#1a1a1a" stroke-width="0.9"/>
<polygon points="588.00,76.50 583.00,77.80 583.00,75.20" fill="#111"/>
<polygon points="592.00,76.50 597.00,75.20 597.00,77.80" fill="#111"/>
<text x="606.50" y="75.80" font-size="11.5" text-anchor="middle" font-weight="bold" fill="#0a0a0a" stroke="#0a0a0a" stroke-width="0.0" textLength="13" lengthAdjust="spacingAndGlyphs">F4</text>
<line x1="641.00" y1="107.50" x2="665.00" y2="107.50" stroke="#1a1a1a" stroke-width="0.9"/>
<line x1="640.00" y1="141.50" x2="668.50" y2="141.50" stroke="#1a1a1a" stroke-width="0.9"/>
<line x1="640.00" y1="175.50" x2="665.00" y2="175.50" stroke="#1a1a1a" stroke-width="0.9"/>
<line x1="663.50" y1="107.40" x2="663.50" y2="175.60" stroke="#1a1a1a" stroke-width="0.9"/>
<polygon points="663.50,107.40 664.80,112.40 662.20,112.40" fill="#111"/>
<polygon points="663.50,141.30 662.20,136.30 664.80,136.30" fill="#111"/>
<polygon points="663.50,141.30 664.80,146.30 662.20,146.30" fill="#111"/>
<polygon points="663.50,175.60 662.20,170.60 664.80,170.60" fill="#111"/>
<text x="661.60" y="136.50" font-size="11" text-anchor="middle" font-weight="bold" fill="#0a0a0a" stroke="#0a0a0a" stroke-width="0.0" transform="rotate(-90 661.60 136.50)">F</text>
<path d="M667.00,141.30 A57.00,57.00 0 0 1 569.69,181.61" stroke="#1a1a1a" stroke-width="0.85" fill="none" />
<polygon points="667.50,141.30 668.80,145.30 666.20,145.30" fill="#111"/>
<polygon points="650.31,181.61 648.75,185.00 646.91,183.16" fill="#111"/>
<polygon points="650.31,181.61 651.86,178.21 653.70,180.05" fill="#111"/>
<polygon points="569.69,181.61 573.80,183.87 571.96,185.71" fill="#111"/>
<line x1="634.00" y1="165.30" x2="652.31" y2="183.61" stroke="#1a1a1a" stroke-width="0.8"/>
<line x1="586.00" y1="165.30" x2="567.69" y2="183.61" stroke="#1a1a1a" stroke-width="0.8"/>
<text x="646.00" y="159.00" font-size="11" text-anchor="start" font-weight="bold" fill="#0a0a0a" stroke="#0a0a0a" stroke-width="0.0" textLength="16.5" lengthAdjust="spacingAndGlyphs">45°</text>
<text x="612.40" y="195.00" font-size="11" text-anchor="start" font-weight="bold" fill="#0a0a0a" stroke="#0a0a0a" stroke-width="0.0" textLength="16.5" lengthAdjust="spacingAndGlyphs">90°</text>
<line x1="587.50" y1="141.00" x2="587.50" y2="215.00" stroke="#1a1a1a" stroke-width="0.9"/>
<line x1="632.50" y1="141.00" x2="632.50" y2="215.00" stroke="#1a1a1a" stroke-width="0.9"/>
<line x1="587.40" y1="213.50" x2="632.20" y2="213.50" stroke="#1a1a1a" stroke-width="0.85"/>
<polygon points="587.40,213.50 592.40,212.20 592.40,214.80" fill="#111"/>
<polygon points="632.20,213.50 627.20,214.80 627.20,212.20" fill="#111"/>
<text x="611.00" y="208.40" font-size="11" text-anchor="middle" font-weight="bold" fill="#0a0a0a" stroke="#0a0a0a" stroke-width="0.0" textLength="38" lengthAdjust="spacingAndGlyphs">F2 (H7)</text>
<line x1="610.50" y1="92.00" x2="610.50" y2="189.00" stroke="#555" stroke-width="0.9" stroke-dasharray="7 2 1.5 2"/>
<line x1="572.00" y1="141.50" x2="650.00" y2="141.50" stroke="#555" stroke-width="0.9" stroke-dasharray="7 2 1.5 2"/>
<rect x="576.50" y="100.50" width="67.00" height="81.00" stroke="#111" stroke-width="0.9" fill="none"/>
<line x1="576.40" y1="102.00" x2="643.40" y2="102.00" stroke="#000" stroke-width="3.2"/>
<rect x="607.50" y="98.50" width="6.00" height="2.00" stroke="#111" stroke-width="0.8" fill="none"/>
<path d="M578,103 L585.8,103 L585.8,106 Q585.5,109 582,109.3 L578,109.3 Z" stroke="#000" stroke-width="0.6" fill="#000" />
<circle cx="581.30" cy="105.20" r="1.20" stroke="#aaa" stroke-width="0.5" fill="#888"/>
<path d="M636,103 L636,112 Q636.5,115.5 640,115.8 L643,115.8" stroke="#000" stroke-width="1.4" fill="none" />
<rect x="639.50" y="106.50" width="3.00" height="6.00" stroke="#111" stroke-width="0.9" fill="none"/>
<line x1="578.50" y1="103.60" x2="578.50" y2="172.60" stroke="#111" stroke-width="0.8"/>
<line x1="641.50" y1="103.60" x2="641.50" y2="172.60" stroke="#111" stroke-width="0.8"/>
<rect x="573.50" y="120.50" width="3.00" height="7.00" stroke="#111" stroke-width="0.9" fill="none"/>
<rect x="643.50" y="120.50" width="3.00" height="7.00" stroke="#111" stroke-width="0.9" fill="none"/>
<line x1="573.30" y1="124.50" x2="576.30" y2="124.50" stroke="#1a1a1a" stroke-width="0.6"/>
<line x1="643.60" y1="124.50" x2="646.80" y2="124.50" stroke="#1a1a1a" stroke-width="0.6"/>
<rect x="573.50" y="158.50" width="3.00" height="7.00" stroke="#111" stroke-width="0.9" fill="none"/>
<rect x="643.50" y="158.50" width="3.00" height="7.00" stroke="#111" stroke-width="0.9" fill="none"/>
<line x1="573.30" y1="161.50" x2="576.30" y2="161.50" stroke="#1a1a1a" stroke-width="0.6"/>
<line x1="643.60" y1="161.50" x2="646.80" y2="161.50" stroke="#1a1a1a" stroke-width="0.6"/>
<line x1="576.40" y1="172.50" x2="643.40" y2="172.50" stroke="#111" stroke-width="0.9"/>
<line x1="576.40" y1="174.50" x2="643.40" y2="174.50" stroke="#333" stroke-width="0.6"/>
<line x1="592.60" y1="174.00" x2="592.60" y2="181.00" stroke="#000" stroke-width="1.5"/>
<line x1="598.00" y1="174.00" x2="598.00" y2="181.00" stroke="#000" stroke-width="1.5"/>
<line x1="622.00" y1="174.00" x2="622.00" y2="181.00" stroke="#000" stroke-width="1.5"/>
<line x1="627.20" y1="174.00" x2="627.20" y2="181.00" stroke="#000" stroke-width="1.5"/>
<rect x="599.50" y="175.50" width="22.00" height="3.00" stroke="#111" stroke-width="0.9" fill="none"/>
<line x1="580.50" y1="172.70" x2="580.50" y2="181.00" stroke="#1a1a1a" stroke-width="0.7"/>
<line x1="640.50" y1="172.70" x2="640.50" y2="181.00" stroke="#1a1a1a" stroke-width="0.7"/>
<circle cx="610.00" cy="141.30" r="33.30" stroke="#111" stroke-width="1.0" fill="#fff"/>
<circle cx="610.00" cy="141.30" r="30.80" stroke="#111" stroke-width="0.9" fill="none"/>
<g transform="rotate(45 610 141.3)">
<rect x="632.00" y="137.50" width="9.40" height="7.60" stroke="#111" stroke-width="1.2" fill="#fff"/>
<circle cx="638.60" cy="141.30" r="1.60" stroke="#111" stroke-width="0.8" fill="none"/>
</g>
<g transform="rotate(135 610 141.3)">
<rect x="632.00" y="137.50" width="9.40" height="7.60" stroke="#111" stroke-width="1.2" fill="#fff"/>
<circle cx="638.60" cy="141.30" r="1.60" stroke="#111" stroke-width="0.8" fill="none"/>
</g>
<g transform="rotate(225 610 141.3)">
<rect x="632.00" y="137.50" width="9.40" height="7.60" stroke="#111" stroke-width="1.2" fill="#fff"/>
<circle cx="638.60" cy="141.30" r="1.60" stroke="#111" stroke-width="0.8" fill="none"/>
</g>
<g transform="rotate(315 610 141.3)">
<rect x="632.00" y="137.50" width="9.40" height="7.60" stroke="#111" stroke-width="1.2" fill="#fff"/>
<circle cx="638.60" cy="141.30" r="1.60" stroke="#111" stroke-width="0.8" fill="none"/>
</g>
<path d="M633.82,127.55 A27.5,27.5 0 0 1 633.82,155.05" stroke="#555" stroke-width="0.6" fill="none" stroke-dasharray="4 1.5 1 1.5" />
<path d="M623.75,165.12 A27.5,27.5 0 0 1 596.25,165.12" stroke="#555" stroke-width="0.6" fill="none" stroke-dasharray="4 1.5 1 1.5" />
<path d="M586.18,155.05 A27.5,27.5 0 0 1 586.18,127.55" stroke="#555" stroke-width="0.6" fill="none" stroke-dasharray="4 1.5 1 1.5" />
<path d="M596.25,117.48 A27.5,27.5 0 0 1 623.75,117.48" stroke="#555" stroke-width="0.6" fill="none" stroke-dasharray="4 1.5 1 1.5" />
<circle cx="610.00" cy="141.30" r="23.80" stroke="#000" stroke-width="1.2" fill="#fff"/>
<circle cx="610.00" cy="141.30" r="21.20" stroke="#000" stroke-width="1.3" fill="none"/>
<circle cx="610.00" cy="141.30" r="14.80" stroke="#444" stroke-width="0.6" fill="none" stroke-dasharray="4 1.5 1 1.5"/>
<circle cx="610.00" cy="141.30" r="10.20" stroke="#111" stroke-width="0.8" fill="none"/>
<circle cx="610.00" cy="141.30" r="7.50" stroke="#000" stroke-width="1.4" fill="none"/>
<circle cx="610.00" cy="141.30" r="5.00" stroke="#111" stroke-width="0.8" fill="none"/>
<circle cx="610.00" cy="141.30" r="2.80" stroke="#000" stroke-width="1.2" fill="#444"/>
<circle cx="610.00" cy="156.10" r="0.90" stroke="#111" stroke-width="0.7" fill="#555"/>
<circle cx="597.18" cy="148.70" r="0.90" stroke="#111" stroke-width="0.7" fill="#555"/>
<circle cx="597.18" cy="133.90" r="0.90" stroke="#111" stroke-width="0.7" fill="#555"/>
<circle cx="610.00" cy="126.50" r="0.90" stroke="#111" stroke-width="0.7" fill="#555"/>
<circle cx="622.82" cy="133.90" r="0.90" stroke="#111" stroke-width="0.7" fill="#555"/>
<circle cx="622.82" cy="148.70" r="0.90" stroke="#111" stroke-width="0.7" fill="#555"/>
<line x1="610.50" y1="120.30" x2="610.50" y2="131.30" stroke="#333" stroke-width="0.6"/>
<line x1="610.50" y1="151.30" x2="610.50" y2="162.30" stroke="#333" stroke-width="0.6"/>
<line x1="589.00" y1="141.50" x2="600.00" y2="141.50" stroke="#333" stroke-width="0.6"/>
<line x1="620.00" y1="141.50" x2="631.00" y2="141.50" stroke="#333" stroke-width="0.6"/>
<rect x="61.50" y="330.50" width="68.00" height="78.00" stroke="#111" stroke-width="0.9" fill="none"/>
<line x1="61.80" y1="332.50" x2="129.60" y2="332.50" stroke="#111" stroke-width="0.8"/>
<line x1="92.70" y1="328.40" x2="98.70" y2="328.40" stroke="#222" stroke-width="1.2"/>
<line x1="74.30" y1="328.80" x2="80.80" y2="328.80" stroke="#111" stroke-width="1.3"/>
<line x1="108.10" y1="328.80" x2="115.60" y2="328.80" stroke="#111" stroke-width="1.3"/>
<line x1="66.70" y1="332.40" x2="66.70" y2="399.60" stroke="#000" stroke-width="1.5"/>
<line x1="124.70" y1="332.40" x2="124.70" y2="399.60" stroke="#000" stroke-width="1.5"/>
<line x1="66.70" y1="399.40" x2="83.80" y2="399.40" stroke="#000" stroke-width="3.0"/>
<line x1="107.60" y1="399.40" x2="124.70" y2="399.40" stroke="#000" stroke-width="3.0"/>
<path d="M67.8,376 L69.39999999999999,376 L69.39999999999999,398.5 L67.8,398.5 Z" stroke="#000" stroke-width="0.5" fill="#000" />
<path d="M124.1,376 L121.6,384 L121.6,398.5 L124.1,398.5 Z" stroke="#000" stroke-width="0.5" fill="#000" />
<rect x="58.50" y="349.50" width="3.00" height="7.00" stroke="#111" stroke-width="0.9" fill="none"/>
<rect x="129.50" y="349.50" width="3.00" height="7.00" stroke="#111" stroke-width="0.9" fill="none"/>
<line x1="58.40" y1="352.50" x2="61.40" y2="352.50" stroke="#1a1a1a" stroke-width="0.6"/>
<line x1="129.90" y1="352.50" x2="132.90" y2="352.50" stroke="#1a1a1a" stroke-width="0.6"/>
<rect x="58.50" y="387.50" width="3.00" height="6.00" stroke="#111" stroke-width="0.9" fill="none"/>
<rect x="129.50" y="387.50" width="3.00" height="6.00" stroke="#111" stroke-width="0.9" fill="none"/>
<line x1="58.40" y1="390.50" x2="61.40" y2="390.50" stroke="#1a1a1a" stroke-width="0.6"/>
<line x1="129.90" y1="390.50" x2="132.90" y2="390.50" stroke="#1a1a1a" stroke-width="0.6"/>
<line x1="72.50" y1="399.50" x2="72.50" y2="408.00" stroke="#1a1a1a" stroke-width="0.7"/>
<line x1="75.50" y1="399.50" x2="75.50" y2="408.00" stroke="#1a1a1a" stroke-width="0.7"/>
<line x1="83.00" y1="399.50" x2="83.00" y2="408.00" stroke="#000" stroke-width="2.0"/>
<line x1="108.40" y1="399.50" x2="108.40" y2="408.00" stroke="#000" stroke-width="2.0"/>
<line x1="118.50" y1="399.50" x2="118.50" y2="408.00" stroke="#1a1a1a" stroke-width="0.7"/>
<line x1="115.50" y1="399.50" x2="115.50" y2="408.00" stroke="#1a1a1a" stroke-width="0.7"/>
<path d="M81.2,389 C79.2,394 77.7,397 76.1,400 L81.3,400 C82.3,398 83.7,395 85.7,391 Z" fill="#666" stroke="#000" stroke-width="1.3"/>
<path d="M89.60000000000001,392.5 C87.10000000000001,397 85.10000000000001,403 84.5,399.4" stroke="#000" stroke-width="1.6" fill="none" />
<path d="M110.2,389 C112.2,394 113.7,397 115.30000000000001,400 L110.10000000000001,400 C109.10000000000001,398 107.7,395 105.7,391 Z" fill="#666" stroke="#000" stroke-width="1.3"/>
<path d="M101.8,392.5 C104.3,397 106.3,403 106.9,399.4" stroke="#000" stroke-width="1.6" fill="none" />
<circle cx="95.70" cy="370.00" r="27.40" stroke="#111" stroke-width="1.0" fill="#fff"/>
<circle cx="95.70" cy="370.00" r="22.00" stroke="#444" stroke-width="0.6" fill="none" stroke-dasharray="5 2 1 2"/>
<circle cx="95.70" cy="370.00" r="18.80" stroke="#333" stroke-width="0.6" fill="none"/>
<circle cx="95.70" cy="370.00" r="16.20" stroke="#000" stroke-width="1.3" fill="none"/>
<circle cx="95.70" cy="370.00" r="13.80" stroke="#222" stroke-width="0.7" fill="none"/>
<circle cx="95.70" cy="370.00" r="7.00" stroke="#000" stroke-width="1.3" fill="none"/>
<circle cx="95.70" cy="370.00" r="4.60" stroke="#111" stroke-width="0.8" fill="none"/>
<circle cx="95.70" cy="370.00" r="2.40" stroke="#000" stroke-width="1.3" fill="#444"/>
<circle cx="117.70" cy="370.00" r="2.90" stroke="#000" stroke-width="1.1" fill="#777"/>
<circle cx="117.70" cy="370.00" r="1.30" stroke="#222" stroke-width="0.6" fill="#aaa"/>
<circle cx="106.70" cy="389.05" r="2.90" stroke="#000" stroke-width="1.1" fill="#777"/>
<circle cx="106.70" cy="389.05" r="1.30" stroke="#222" stroke-width="0.6" fill="#aaa"/>
<circle cx="84.70" cy="389.05" r="2.90" stroke="#000" stroke-width="1.1" fill="#777"/>
<circle cx="84.70" cy="389.05" r="1.30" stroke="#222" stroke-width="0.6" fill="#aaa"/>
<circle cx="73.70" cy="370.00" r="2.90" stroke="#000" stroke-width="1.1" fill="#777"/>
<circle cx="73.70" cy="370.00" r="1.30" stroke="#222" stroke-width="0.6" fill="#aaa"/>
<circle cx="84.70" cy="350.95" r="2.90" stroke="#000" stroke-width="1.1" fill="#777"/>
<circle cx="84.70" cy="350.95" r="1.30" stroke="#222" stroke-width="0.6" fill="#aaa"/>
<circle cx="106.70" cy="350.95" r="2.90" stroke="#000" stroke-width="1.1" fill="#777"/>
<circle cx="106.70" cy="350.95" r="1.30" stroke="#222" stroke-width="0.6" fill="#aaa"/>
<circle cx="111.54" cy="385.84" r="1.30" stroke="#222" stroke-width="0.8" fill="#fff"/>
<circle cx="79.86" cy="385.84" r="1.30" stroke="#222" stroke-width="0.8" fill="#fff"/>
<circle cx="79.86" cy="354.16" r="1.30" stroke="#222" stroke-width="0.8" fill="#fff"/>
<circle cx="111.54" cy="354.16" r="1.30" stroke="#222" stroke-width="0.8" fill="#fff"/>
<line x1="101.00" y1="375.30" x2="105.46" y2="379.76" stroke="#222" stroke-width="0.6"/>
<line x1="90.40" y1="375.30" x2="85.94" y2="379.76" stroke="#222" stroke-width="0.6"/>
<line x1="90.40" y1="364.70" x2="85.94" y2="360.24" stroke="#222" stroke-width="0.6"/>
<line x1="101.00" y1="364.70" x2="105.46" y2="360.24" stroke="#222" stroke-width="0.6"/>
<line x1="95.50" y1="313.00" x2="95.50" y2="418.50" stroke="#555" stroke-width="0.9" stroke-dasharray="7 2 1.5 2"/>
<line x1="63.30" y1="370.50" x2="128.10" y2="370.50" stroke="#555" stroke-width="0.9" stroke-dasharray="7 2 1.5 2"/>
<path d="M95.70,315.00 A55.00,55.00 0 0 1 134.59,408.89" stroke="#1a1a1a" stroke-width="0.85" fill="none" />
<polygon points="95.70,315.50 99.70,314.20 99.70,316.80" fill="#111"/>
<polygon points="134.59,331.11 137.98,332.66 136.15,334.50" fill="#111"/>
<polygon points="134.59,331.11 131.20,329.55 133.04,327.72" fill="#111"/>
<line x1="113.66" y1="352.04" x2="134.59" y2="331.11" stroke="#1a1a1a" stroke-width="0.7"/>
<polygon points="134.59,408.89 137.07,405.00 138.48,406.42" fill="#111"/>
<line x1="109.28" y1="383.58" x2="134.59" y2="408.89" stroke="#1a1a1a" stroke-width="0.7"/>
<line x1="95.50" y1="313.50" x2="95.50" y2="319.00" stroke="#222" stroke-width="0.8"/>
<text x="115.60" y="318.00" font-size="11" text-anchor="start" font-weight="bold" fill="#0a0a0a" stroke="#0a0a0a" stroke-width="0.0" textLength="16.5" lengthAdjust="spacingAndGlyphs">45°</text>
<text x="143.60" y="339.60" font-size="11" text-anchor="start" font-weight="bold" fill="#0a0a0a" stroke="#0a0a0a" stroke-width="0.0" textLength="16.5" lengthAdjust="spacingAndGlyphs">90°</text>
<line x1="43.00" y1="342.50" x2="95.70" y2="342.50" stroke="#1a1a1a" stroke-width="0.9"/>
<line x1="43.00" y1="397.50" x2="95.70" y2="397.50" stroke="#1a1a1a" stroke-width="0.9"/>
<line x1="46.50" y1="342.60" x2="46.50" y2="397.40" stroke="#1a1a1a" stroke-width="0.85"/>
<polygon points="46.50,342.60 47.80,347.60 45.20,347.60" fill="#111"/>
<polygon points="46.50,397.40 45.20,392.40 47.80,392.40" fill="#111"/>
<text x="44.80" y="370.50" font-size="11" text-anchor="middle" font-weight="bold" fill="#0a0a0a" stroke="#0a0a0a" stroke-width="0.0" transform="rotate(-90 44.80 370.50)" textLength="18.5" lengthAdjust="spacingAndGlyphs">160</text>
<line x1="62.40" y1="315.50" x2="92.40" y2="315.50" stroke="#1a1a1a" stroke-width="0.9"/>
<line x1="78.50" y1="314.60" x2="78.50" y2="354.16" stroke="#1a1a1a" stroke-width="0.9"/>
<line x1="81.50" y1="314.60" x2="81.50" y2="354.16" stroke="#1a1a1a" stroke-width="0.9"/>
<polygon points="78.60,315.50 73.60,316.80 73.60,314.20" fill="#111"/>
<polygon points="81.60,315.50 86.60,314.20 86.60,316.80" fill="#111"/>
<text x="65.00" y="314.00" font-size="11" text-anchor="start" font-weight="bold" fill="#0a0a0a" stroke="#0a0a0a" stroke-width="0.0" textLength="6" lengthAdjust="spacingAndGlyphs">9</text>
<line x1="73.50" y1="402.00" x2="73.50" y2="434.40" stroke="#1a1a1a" stroke-width="0.9"/>
<line x1="117.50" y1="402.00" x2="117.50" y2="434.40" stroke="#1a1a1a" stroke-width="0.9"/>
<line x1="73.60" y1="431.50" x2="117.60" y2="431.50" stroke="#1a1a1a" stroke-width="0.85"/>
<polygon points="73.60,431.50 78.60,430.20 78.60,432.80" fill="#111"/>
<polygon points="117.60,431.50 112.60,432.80 112.60,430.20" fill="#111"/>
<text x="95.60" y="430.00" font-size="11" text-anchor="middle" font-weight="bold" fill="#0a0a0a" stroke="#0a0a0a" stroke-width="0.0" textLength="18.5" lengthAdjust="spacingAndGlyphs">130</text>
<rect x="292.50" y="330.50" width="67.00" height="78.00" stroke="#111" stroke-width="0.9" fill="none"/>
<line x1="292.00" y1="332.50" x2="359.40" y2="332.50" stroke="#111" stroke-width="0.8"/>
<line x1="322.60" y1="328.40" x2="328.60" y2="328.40" stroke="#222" stroke-width="1.2"/>
<line x1="304.50" y1="328.80" x2="311.00" y2="328.80" stroke="#111" stroke-width="1.3"/>
<line x1="337.90" y1="328.80" x2="345.40" y2="328.80" stroke="#111" stroke-width="1.3"/>
<line x1="296.90" y1="332.40" x2="296.90" y2="399.60" stroke="#000" stroke-width="1.5"/>
<line x1="354.50" y1="332.40" x2="354.50" y2="399.60" stroke="#000" stroke-width="1.5"/>
<line x1="296.90" y1="399.40" x2="314.00" y2="399.40" stroke="#000" stroke-width="3.0"/>
<line x1="337.40" y1="399.40" x2="354.50" y2="399.40" stroke="#000" stroke-width="3.0"/>
<path d="M298,376 L299.6,376 L299.6,398.5 L298,398.5 Z" stroke="#000" stroke-width="0.5" fill="#000" />
<path d="M353.9,376 L351.4,384 L351.4,398.5 L353.9,398.5 Z" stroke="#000" stroke-width="0.5" fill="#000" />
<rect x="288.50" y="349.50" width="3.00" height="7.00" stroke="#111" stroke-width="0.9" fill="none"/>
<rect x="359.50" y="349.50" width="3.00" height="7.00" stroke="#111" stroke-width="0.9" fill="none"/>
<line x1="288.60" y1="352.50" x2="291.60" y2="352.50" stroke="#1a1a1a" stroke-width="0.6"/>
<line x1="359.70" y1="352.50" x2="362.70" y2="352.50" stroke="#1a1a1a" stroke-width="0.6"/>
<rect x="288.50" y="387.50" width="3.00" height="6.00" stroke="#111" stroke-width="0.9" fill="none"/>
<rect x="359.50" y="387.50" width="3.00" height="6.00" stroke="#111" stroke-width="0.9" fill="none"/>
<line x1="288.60" y1="390.50" x2="291.60" y2="390.50" stroke="#1a1a1a" stroke-width="0.6"/>
<line x1="359.70" y1="390.50" x2="362.70" y2="390.50" stroke="#1a1a1a" stroke-width="0.6"/>
<line x1="302.50" y1="399.50" x2="302.50" y2="408.00" stroke="#1a1a1a" stroke-width="0.7"/>
<line x1="306.50" y1="399.50" x2="306.50" y2="408.00" stroke="#1a1a1a" stroke-width="0.7"/>
<line x1="313.20" y1="399.50" x2="313.20" y2="408.00" stroke="#000" stroke-width="2.0"/>
<line x1="338.20" y1="399.50" x2="338.20" y2="408.00" stroke="#000" stroke-width="2.0"/>
<line x1="348.50" y1="399.50" x2="348.50" y2="408.00" stroke="#1a1a1a" stroke-width="0.7"/>
<line x1="345.50" y1="399.50" x2="345.50" y2="408.00" stroke="#1a1a1a" stroke-width="0.7"/>
<path d="M311.1,389 C309.1,394 307.6,397 306.0,400 L311.20000000000005,400 C312.20000000000005,398 313.6,395 315.6,391 Z" fill="#666" stroke="#000" stroke-width="1.3"/>
<path d="M319.5,392.5 C317.0,397 315.0,403 314.40000000000003,399.4" stroke="#000" stroke-width="1.6" fill="none" />
<path d="M340.1,389 C342.1,394 343.6,397 345.20000000000005,400 L340.0,400 C339.0,398 337.6,395 335.6,391 Z" fill="#666" stroke="#000" stroke-width="1.3"/>
<path d="M331.70000000000005,392.5 C334.20000000000005,397 336.20000000000005,403 336.8,399.4" stroke="#000" stroke-width="1.6" fill="none" />
<circle cx="325.60" cy="370.00" r="33.40" stroke="#111" stroke-width="1.0" fill="#fff"/>
<circle cx="325.60" cy="370.00" r="22.00" stroke="#444" stroke-width="0.6" fill="none" stroke-dasharray="5 2 1 2"/>
<circle cx="325.60" cy="370.00" r="28.30" stroke="#444" stroke-width="0.6" fill="none" stroke-dasharray="7 3"/>
<circle cx="325.60" cy="370.00" r="18.20" stroke="#333" stroke-width="0.6" fill="none"/>
<circle cx="325.60" cy="370.00" r="15.60" stroke="#000" stroke-width="1.3" fill="none"/>
<circle cx="325.60" cy="370.00" r="13.20" stroke="#222" stroke-width="0.7" fill="none"/>
<circle cx="325.60" cy="370.00" r="7.00" stroke="#000" stroke-width="1.3" fill="none"/>
<circle cx="325.60" cy="370.00" r="4.60" stroke="#111" stroke-width="0.8" fill="none"/>
<circle cx="325.60" cy="370.00" r="2.40" stroke="#000" stroke-width="1.3" fill="#444"/>
<circle cx="347.60" cy="370.00" r="2.90" stroke="#000" stroke-width="1.1" fill="#777"/>
<circle cx="347.60" cy="370.00" r="1.30" stroke="#222" stroke-width="0.6" fill="#aaa"/>
<circle cx="336.60" cy="389.05" r="2.90" stroke="#000" stroke-width="1.1" fill="#777"/>
<circle cx="336.60" cy="389.05" r="1.30" stroke="#222" stroke-width="0.6" fill="#aaa"/>
<circle cx="314.60" cy="389.05" r="2.90" stroke="#000" stroke-width="1.1" fill="#777"/>
<circle cx="314.60" cy="389.05" r="1.30" stroke="#222" stroke-width="0.6" fill="#aaa"/>
<circle cx="303.60" cy="370.00" r="2.90" stroke="#000" stroke-width="1.1" fill="#777"/>
<circle cx="303.60" cy="370.00" r="1.30" stroke="#222" stroke-width="0.6" fill="#aaa"/>
<circle cx="314.60" cy="350.95" r="2.90" stroke="#000" stroke-width="1.1" fill="#777"/>
<circle cx="314.60" cy="350.95" r="1.30" stroke="#222" stroke-width="0.6" fill="#aaa"/>
<circle cx="336.60" cy="350.95" r="2.90" stroke="#000" stroke-width="1.1" fill="#777"/>
<circle cx="336.60" cy="350.95" r="1.30" stroke="#222" stroke-width="0.6" fill="#aaa"/>
<circle cx="345.61" cy="390.01" r="1.30" stroke="#222" stroke-width="0.8" fill="#fff"/>
<circle cx="305.59" cy="390.01" r="1.30" stroke="#222" stroke-width="0.8" fill="#fff"/>
<circle cx="305.59" cy="349.99" r="1.30" stroke="#222" stroke-width="0.8" fill="#fff"/>
<circle cx="345.61" cy="349.99" r="1.30" stroke="#222" stroke-width="0.8" fill="#fff"/>
<line x1="330.90" y1="375.30" x2="334.93" y2="379.33" stroke="#222" stroke-width="0.6"/>
<line x1="320.30" y1="375.30" x2="316.27" y2="379.33" stroke="#222" stroke-width="0.6"/>
<line x1="320.30" y1="364.70" x2="316.27" y2="360.67" stroke="#222" stroke-width="0.6"/>
<line x1="330.90" y1="364.70" x2="334.93" y2="360.67" stroke="#222" stroke-width="0.6"/>
<line x1="325.50" y1="313.00" x2="325.50" y2="418.50" stroke="#555" stroke-width="0.9" stroke-dasharray="7 2 1.5 2"/>
<line x1="287.20" y1="370.50" x2="364.00" y2="370.50" stroke="#555" stroke-width="0.9" stroke-dasharray="7 2 1.5 2"/>
<path d="M325.60,313.50 A56.50,56.50 0 0 1 365.55,409.95" stroke="#1a1a1a" stroke-width="0.85" fill="none" />
<polygon points="325.60,313.50 329.60,312.20 329.60,314.80" fill="#111"/>
<polygon points="365.55,330.05 368.95,331.60 367.11,333.44" fill="#111"/>
<polygon points="365.55,330.05 362.16,328.49 364.00,326.65" fill="#111"/>
<line x1="347.73" y1="347.87" x2="365.55" y2="330.05" stroke="#1a1a1a" stroke-width="0.7"/>
<polygon points="365.55,409.95 368.03,406.06 369.44,407.48" fill="#111"/>
<line x1="338.75" y1="383.15" x2="365.55" y2="409.95" stroke="#1a1a1a" stroke-width="0.7"/>
<line x1="325.50" y1="312.00" x2="325.50" y2="317.50" stroke="#222" stroke-width="0.8"/>
<text x="345.00" y="316.60" font-size="11" text-anchor="start" font-weight="bold" fill="#0a0a0a" stroke="#0a0a0a" stroke-width="0.0" textLength="16.5" lengthAdjust="spacingAndGlyphs">45°</text>
<text x="364.00" y="366.00" font-size="11" text-anchor="start" font-weight="bold" fill="#0a0a0a" stroke="#0a0a0a" stroke-width="0.0" textLength="16.5" lengthAdjust="spacingAndGlyphs">90°</text>
<line x1="275.00" y1="336.50" x2="325.60" y2="336.50" stroke="#1a1a1a" stroke-width="0.9"/>
<line x1="275.00" y1="403.50" x2="325.60" y2="403.50" stroke="#1a1a1a" stroke-width="0.9"/>
<line x1="278.50" y1="336.60" x2="278.50" y2="403.40" stroke="#1a1a1a" stroke-width="0.85"/>
<polygon points="278.50,336.60 279.80,341.60 277.20,341.60" fill="#111"/>
<polygon points="278.50,403.40 277.20,398.40 279.80,398.40" fill="#111"/>
<text x="276.80" y="370.50" font-size="11" text-anchor="middle" font-weight="bold" fill="#0a0a0a" stroke="#0a0a0a" stroke-width="0.0" transform="rotate(-90 276.80 370.50)" textLength="18.5" lengthAdjust="spacingAndGlyphs">200</text>
<line x1="278.00" y1="315.50" x2="317.40" y2="315.50" stroke="#1a1a1a" stroke-width="0.9"/>
<line x1="303.50" y1="314.60" x2="303.50" y2="349.99" stroke="#1a1a1a" stroke-width="0.9"/>
<line x1="307.50" y1="314.60" x2="307.50" y2="349.99" stroke="#1a1a1a" stroke-width="0.9"/>
<polygon points="303.40,315.50 298.40,316.80 298.40,314.20" fill="#111"/>
<polygon points="307.40,315.50 312.40,314.20 312.40,316.80" fill="#111"/>
<text x="278.00" y="314.00" font-size="11" text-anchor="start" font-weight="bold" fill="#0a0a0a" stroke="#0a0a0a" stroke-width="0.0" textLength="20" lengthAdjust="spacingAndGlyphs">11.5</text>
<line x1="297.50" y1="402.00" x2="297.50" y2="434.40" stroke="#1a1a1a" stroke-width="0.9"/>
<line x1="353.50" y1="402.00" x2="353.50" y2="434.40" stroke="#1a1a1a" stroke-width="0.9"/>
<line x1="297.60" y1="431.50" x2="353.60" y2="431.50" stroke="#1a1a1a" stroke-width="0.85"/>
<polygon points="297.60,431.50 302.60,430.20 302.60,432.80" fill="#111"/>
<polygon points="353.60,431.50 348.60,432.80 348.60,430.20" fill="#111"/>
<text x="325.60" y="430.00" font-size="11" text-anchor="middle" font-weight="bold" fill="#0a0a0a" stroke="#0a0a0a" stroke-width="0.0" textLength="18.5" lengthAdjust="spacingAndGlyphs">165</text>
<rect x="529.50" y="329.50" width="69.00" height="79.00" stroke="#111" stroke-width="0.9" fill="none"/>
<line x1="529.00" y1="332.50" x2="598.40" y2="332.50" stroke="#111" stroke-width="0.8"/>
<line x1="560.40" y1="328.00" x2="566.40" y2="328.00" stroke="#222" stroke-width="1.2"/>
<line x1="541.50" y1="328.40" x2="548.00" y2="328.40" stroke="#111" stroke-width="1.3"/>
<line x1="576.90" y1="328.40" x2="584.40" y2="328.40" stroke="#111" stroke-width="1.3"/>
<line x1="533.90" y1="332.00" x2="533.90" y2="399.60" stroke="#000" stroke-width="1.5"/>
<line x1="593.50" y1="332.00" x2="593.50" y2="399.60" stroke="#000" stroke-width="1.5"/>
<line x1="533.90" y1="399.40" x2="551.00" y2="399.40" stroke="#000" stroke-width="3.0"/>
<line x1="576.40" y1="399.40" x2="593.50" y2="399.40" stroke="#000" stroke-width="3.0"/>
<path d="M535,376 L536.6,376 L536.6,398.5 L535,398.5 Z" stroke="#000" stroke-width="0.5" fill="#000" />
<path d="M592.9,376 L590.4,384 L590.4,398.5 L592.9,398.5 Z" stroke="#000" stroke-width="0.5" fill="#000" />
<line x1="539.50" y1="399.50" x2="539.50" y2="408.00" stroke="#1a1a1a" stroke-width="0.7"/>
<line x1="543.50" y1="399.50" x2="543.50" y2="408.00" stroke="#1a1a1a" stroke-width="0.7"/>
<line x1="550.20" y1="399.50" x2="550.20" y2="408.00" stroke="#000" stroke-width="2.0"/>
<line x1="577.20" y1="399.50" x2="577.20" y2="408.00" stroke="#000" stroke-width="2.0"/>
<line x1="587.50" y1="399.50" x2="587.50" y2="408.00" stroke="#1a1a1a" stroke-width="0.7"/>
<line x1="584.50" y1="399.50" x2="584.50" y2="408.00" stroke="#1a1a1a" stroke-width="0.7"/>
<path d="M548.9,389 C546.9,394 545.4,397 543.8,400 L549.0,400 C550.0,398 551.4,395 553.4,391 Z" fill="#666" stroke="#000" stroke-width="1.3"/>
<path d="M557.3,392.5 C554.8,397 552.8,403 552.1999999999999,399.4" stroke="#000" stroke-width="1.6" fill="none" />
<path d="M577.9,389 C579.9,394 581.4,397 583.0,400 L577.8,400 C576.8,398 575.4,395 573.4,391 Z" fill="#666" stroke="#000" stroke-width="1.3"/>
<path d="M569.5,392.5 C572.0,397 574.0,403 574.6,399.4" stroke="#000" stroke-width="1.6" fill="none" />
<circle cx="563.40" cy="370.00" r="42.50" stroke="#111" stroke-width="1.0" fill="#fff"/>
<line x1="536.50" y1="399.00" x2="536.50" y2="408.00" stroke="#000" stroke-width="3"/>
<line x1="592.90" y1="399.00" x2="592.90" y2="408.00" stroke="#000" stroke-width="3"/>
<circle cx="563.40" cy="370.00" r="22.00" stroke="#444" stroke-width="0.6" fill="none" stroke-dasharray="5 2 1 2"/>
<circle cx="563.40" cy="370.00" r="36.50" stroke="#444" stroke-width="0.6" fill="none" stroke-dasharray="7 3"/>
<circle cx="563.40" cy="370.00" r="18.60" stroke="#333" stroke-width="0.6" fill="none"/>
<circle cx="563.40" cy="370.00" r="16.00" stroke="#000" stroke-width="1.3" fill="none"/>
<circle cx="563.40" cy="370.00" r="13.60" stroke="#222" stroke-width="0.7" fill="none"/>
<circle cx="563.40" cy="370.00" r="7.00" stroke="#000" stroke-width="1.3" fill="none"/>
<circle cx="563.40" cy="370.00" r="4.60" stroke="#111" stroke-width="0.8" fill="none"/>
<circle cx="563.40" cy="370.00" r="2.40" stroke="#000" stroke-width="1.3" fill="#444"/>
<circle cx="585.40" cy="370.00" r="2.90" stroke="#000" stroke-width="1.1" fill="#777"/>
<circle cx="585.40" cy="370.00" r="1.30" stroke="#222" stroke-width="0.6" fill="#aaa"/>
<circle cx="574.40" cy="389.05" r="2.90" stroke="#000" stroke-width="1.1" fill="#777"/>
<circle cx="574.40" cy="389.05" r="1.30" stroke="#222" stroke-width="0.6" fill="#aaa"/>
<circle cx="552.40" cy="389.05" r="2.90" stroke="#000" stroke-width="1.1" fill="#777"/>
<circle cx="552.40" cy="389.05" r="1.30" stroke="#222" stroke-width="0.6" fill="#aaa"/>
<circle cx="541.40" cy="370.00" r="2.90" stroke="#000" stroke-width="1.1" fill="#777"/>
<circle cx="541.40" cy="370.00" r="1.30" stroke="#222" stroke-width="0.6" fill="#aaa"/>
<circle cx="552.40" cy="350.95" r="2.90" stroke="#000" stroke-width="1.1" fill="#777"/>
<circle cx="552.40" cy="350.95" r="1.30" stroke="#222" stroke-width="0.6" fill="#aaa"/>
<circle cx="574.40" cy="350.95" r="2.90" stroke="#000" stroke-width="1.1" fill="#777"/>
<circle cx="574.40" cy="350.95" r="1.30" stroke="#222" stroke-width="0.6" fill="#aaa"/>
<circle cx="589.21" cy="395.81" r="1.80" stroke="#222" stroke-width="0.8" fill="#fff"/>
<circle cx="537.59" cy="395.81" r="1.80" stroke="#222" stroke-width="0.8" fill="#fff"/>
<circle cx="537.59" cy="344.19" r="1.80" stroke="#222" stroke-width="0.8" fill="#fff"/>
<circle cx="589.21" cy="344.19" r="1.80" stroke="#222" stroke-width="0.8" fill="#fff"/>
<line x1="568.70" y1="375.30" x2="573.02" y2="379.62" stroke="#222" stroke-width="0.6"/>
<line x1="558.10" y1="375.30" x2="553.78" y2="379.62" stroke="#222" stroke-width="0.6"/>
<line x1="558.10" y1="364.70" x2="553.78" y2="360.38" stroke="#222" stroke-width="0.6"/>
<line x1="568.70" y1="364.70" x2="573.02" y2="360.38" stroke="#222" stroke-width="0.6"/>
<line x1="563.50" y1="312.60" x2="563.50" y2="418.50" stroke="#555" stroke-width="0.9" stroke-dasharray="7 2 1.5 2"/>
<line x1="515.90" y1="370.50" x2="610.90" y2="370.50" stroke="#555" stroke-width="0.9" stroke-dasharray="7 2 1.5 2"/>
<path d="M563.40,314.00 A56.00,56.00 0 0 1 603.00,409.60" stroke="#1a1a1a" stroke-width="0.85" fill="none" />
<polygon points="563.40,314.50 567.40,313.20 567.40,315.80" fill="#111"/>
<polygon points="603.00,330.40 606.39,331.96 604.55,333.80" fill="#111"/>
<polygon points="603.00,330.40 599.60,328.85 601.44,327.01" fill="#111"/>
<line x1="591.33" y1="342.07" x2="603.00" y2="330.40" stroke="#1a1a1a" stroke-width="0.7"/>
<polygon points="603.00,409.60 605.47,405.71 606.89,407.12" fill="#111"/>
<line x1="576.84" y1="383.44" x2="603.00" y2="409.60" stroke="#1a1a1a" stroke-width="0.7"/>
<line x1="563.50" y1="312.50" x2="563.50" y2="318.00" stroke="#222" stroke-width="0.8"/>
<text x="586.00" y="317.00" font-size="11" text-anchor="start" font-weight="bold" fill="#0a0a0a" stroke="#0a0a0a" stroke-width="0.0" textLength="16.5" lengthAdjust="spacingAndGlyphs">45°</text>
<text x="612.00" y="338.60" font-size="11" text-anchor="start" font-weight="bold" fill="#0a0a0a" stroke="#0a0a0a" stroke-width="0.0" textLength="16.5" lengthAdjust="spacingAndGlyphs">90°</text>
<line x1="506.40" y1="327.50" x2="563.40" y2="327.50" stroke="#1a1a1a" stroke-width="0.9"/>
<line x1="506.40" y1="412.50" x2="563.40" y2="412.50" stroke="#1a1a1a" stroke-width="0.9"/>
<line x1="509.50" y1="327.50" x2="509.50" y2="412.50" stroke="#1a1a1a" stroke-width="0.85"/>
<polygon points="509.50,327.50 510.80,332.50 508.20,332.50" fill="#111"/>
<polygon points="509.50,412.50 508.20,407.50 510.80,407.50" fill="#111"/>
<text x="508.20" y="370.50" font-size="11" text-anchor="middle" font-weight="bold" fill="#0a0a0a" stroke="#0a0a0a" stroke-width="0.0" transform="rotate(-90 508.20 370.50)" textLength="18.5" lengthAdjust="spacingAndGlyphs">250</text>
<line x1="515.00" y1="312.50" x2="549.40" y2="312.50" stroke="#1a1a1a" stroke-width="0.9"/>
<line x1="535.50" y1="311.00" x2="535.50" y2="344.19" stroke="#1a1a1a" stroke-width="0.9"/>
<line x1="539.50" y1="311.00" x2="539.50" y2="344.19" stroke="#1a1a1a" stroke-width="0.9"/>
<polygon points="535.60,312.50 530.60,313.80 530.60,311.20" fill="#111"/>
<polygon points="539.40,312.50 544.40,311.20 544.40,313.80" fill="#111"/>
<text x="516.60" y="310.40" font-size="11" text-anchor="start" font-weight="bold" fill="#0a0a0a" stroke="#0a0a0a" stroke-width="0.0" textLength="11" lengthAdjust="spacingAndGlyphs">14</text>
<line x1="526.50" y1="374.00" x2="526.50" y2="433.20" stroke="#1a1a1a" stroke-width="0.9"/>
<line x1="599.50" y1="374.00" x2="599.50" y2="433.20" stroke="#1a1a1a" stroke-width="0.9"/>
<line x1="526.60" y1="430.50" x2="599.60" y2="430.50" stroke="#1a1a1a" stroke-width="0.85"/>
<polygon points="526.60,430.50 531.60,429.20 531.60,431.80" fill="#111"/>
<polygon points="599.60,430.50 594.60,431.80 594.60,429.20" fill="#111"/>
<text x="563.10" y="428.80" font-size="11" text-anchor="middle" font-weight="bold" fill="#0a0a0a" stroke="#0a0a0a" stroke-width="0.0" textLength="18.5" lengthAdjust="spacingAndGlyphs">215</text>
<line x1="549.96" y1="383.44" x2="538.65" y2="394.75" stroke="#222" stroke-width="0.7"/>
<line x1="549.96" y1="356.56" x2="538.65" y2="345.25" stroke="#222" stroke-width="0.7"/>
<path d="M165.3,328.6 L164.8,334 L163,346 L160.4,346.8 L166.6,349.8 L160.8,352.6 L161.2,375.4 L164.7,377 L158.2,379.8 L162.8,382.2 L163,406.8 L177,406.8 L187.3,408" stroke="#222" stroke-width="0.8" fill="none" />
<line x1="165.30" y1="328.60" x2="178.50" y2="328.60" stroke="#000" stroke-width="1.6"/>
<path d="M178.5,328.6 L182.8,329.8" stroke="#111" stroke-width="1.0" fill="none" />
<line x1="165.00" y1="332.50" x2="183.00" y2="332.50" stroke="#111" stroke-width="0.8"/>
<line x1="183.00" y1="329.80" x2="183.00" y2="401.80" stroke="#000" stroke-width="1.6"/>
<path d="M183,346.4 C187,346.4 191,345.5 194.6,343.8" stroke="#111" stroke-width="0.8" fill="none" />
<path d="M183,394.5 C187,394.5 191,395.5 194.6,397" stroke="#111" stroke-width="0.8" fill="none" />
<line x1="189.50" y1="346.00" x2="189.50" y2="401.80" stroke="#222" stroke-width="0.8"/>
<line x1="183.60" y1="352.40" x2="189.80" y2="352.40" stroke="#000" stroke-width="1.8"/>
<line x1="183.60" y1="366.00" x2="189.80" y2="366.00" stroke="#000" stroke-width="1.8"/>
<line x1="183.60" y1="373.80" x2="189.80" y2="373.80" stroke="#000" stroke-width="1.8"/>
<line x1="183.60" y1="387.40" x2="189.80" y2="387.40" stroke="#000" stroke-width="1.8"/>
<path d="M189.4,350 L194.6,348.8" stroke="#333" stroke-width="0.6" fill="none" />
<path d="M189.4,368.3 L194.6,367.1" stroke="#333" stroke-width="0.6" fill="none" />
<path d="M189.4,371.6 L194.6,372.8" stroke="#333" stroke-width="0.6" fill="none" />
<path d="M189.4,390 L194.6,391.2" stroke="#333" stroke-width="0.6" fill="none" />
<line x1="185.50" y1="352.40" x2="185.50" y2="366.00" stroke="#888" stroke-width="0.5"/>
<line x1="185.50" y1="373.80" x2="185.50" y2="387.40" stroke="#888" stroke-width="0.5"/>
<line x1="183.00" y1="401.80" x2="189.40" y2="401.80" stroke="#000" stroke-width="1.2"/>
<rect x="187.50" y="402.50" width="6.00" height="6.00" stroke="#111" stroke-width="0.9" fill="none"/>
<line x1="193.80" y1="402.20" x2="193.80" y2="408.00" stroke="#000" stroke-width="1.4"/>
<line x1="190.50" y1="402.20" x2="190.50" y2="408.00" stroke="#444" stroke-width="0.6"/>
<line x1="195.50" y1="343.00" x2="195.50" y2="397.00" stroke="#111" stroke-width="1.0"/>
<line x1="198.90" y1="343.00" x2="198.90" y2="397.00" stroke="#000" stroke-width="1.6"/>
<line x1="195.80" y1="343.50" x2="199.00" y2="343.50" stroke="#111" stroke-width="0.8"/>
<line x1="195.80" y1="397.50" x2="199.40" y2="397.50" stroke="#000" stroke-width="1.0"/>
<line x1="194.50" y1="303.40" x2="194.50" y2="344.00" stroke="#1a1a1a" stroke-width="0.9"/>
<line x1="198.50" y1="303.40" x2="198.50" y2="343.00" stroke="#111" stroke-width="0.9"/>
<line x1="199.50" y1="318.40" x2="199.50" y2="425.00" stroke="#1a1a1a" stroke-width="0.9"/>
<line x1="223.50" y1="303.40" x2="223.50" y2="375.80" stroke="#1a1a1a" stroke-width="0.9"/>
<line x1="174.00" y1="304.50" x2="225.60" y2="304.50" stroke="#1a1a1a" stroke-width="0.9"/>
<polygon points="194.40,304.50 189.40,305.80 189.40,303.20" fill="#111"/>
<polygon points="198.20,304.50 203.20,303.20 203.20,305.80" fill="#111"/>
<polygon points="199.60,304.50 204.60,303.20 204.60,305.80" fill="#111"/>
<polygon points="223.60,304.50 218.60,305.80 218.60,303.20" fill="#111"/>
<text x="181.30" y="302.60" font-size="11" text-anchor="middle" font-weight="bold" fill="#0a0a0a" stroke="#0a0a0a" stroke-width="0.0" textLength="11.5" lengthAdjust="spacingAndGlyphs">10</text>
<text x="211.00" y="302.60" font-size="11" text-anchor="middle" font-weight="bold" fill="#0a0a0a" stroke="#0a0a0a" stroke-width="0.0" textLength="12" lengthAdjust="spacingAndGlyphs">75</text>
<line x1="188.00" y1="319.50" x2="222.00" y2="319.50" stroke="#1a1a1a" stroke-width="0.9"/>
<polygon points="198.20,319.50 193.20,320.80 193.20,318.20" fill="#111"/>
<polygon points="199.60,319.50 204.60,318.20 204.60,320.80" fill="#111"/>
<text x="213.30" y="317.60" font-size="11" text-anchor="middle" font-weight="bold" fill="#0a0a0a" stroke="#0a0a0a" stroke-width="0.0" textLength="15.5" lengthAdjust="spacingAndGlyphs">3,5</text>
<line x1="201.00" y1="363.80" x2="223.00" y2="363.80" stroke="#000" stroke-width="1.8"/>
<line x1="223.00" y1="364.50" x2="239.40" y2="364.50" stroke="#1a1a1a" stroke-width="0.7"/>
<line x1="199.60" y1="375.50" x2="239.40" y2="375.50" stroke="#1a1a1a" stroke-width="0.7"/>
<line x1="199.60" y1="351.50" x2="259.00" y2="351.50" stroke="#1a1a1a" stroke-width="0.9"/>
<line x1="199.60" y1="388.50" x2="222.00" y2="388.50" stroke="#1a1a1a" stroke-width="0.9"/>
<line x1="247.00" y1="388.50" x2="259.00" y2="388.50" stroke="#1a1a1a" stroke-width="0.9"/>
<line x1="238.50" y1="354.60" x2="238.50" y2="417.00" stroke="#1a1a1a" stroke-width="0.9"/>
<polygon points="238.50,364.60 237.20,359.60 239.80,359.60" fill="#111"/>
<polygon points="238.50,375.80 239.80,380.80 237.20,380.80" fill="#111"/>
<text x="235.80" y="398.70" font-size="11" text-anchor="middle" font-weight="bold" fill="#0a0a0a" stroke="#0a0a0a" stroke-width="0.0" transform="rotate(-90 235.80 398.70)" textLength="30" lengthAdjust="spacingAndGlyphs">ø35 j6</text>
<line x1="157.00" y1="370.50" x2="243.00" y2="370.50" stroke="#555" stroke-width="0.9" stroke-dasharray="7 2 1.5 2"/>
<text x="167.60" y="365.60" font-size="11.5" text-anchor="start" font-weight="bold" fill="#0a0a0a" stroke="#0a0a0a" stroke-width="0.0" textLength="9.4" lengthAdjust="spacingAndGlyphs">/2</text>
<text x="167.60" y="382.60" font-size="11.5" text-anchor="start" font-weight="bold" fill="#0a0a0a" stroke="#0a0a0a" stroke-width="0.0" textLength="9.4" lengthAdjust="spacingAndGlyphs">/3</text>
<line x1="189.50" y1="408.00" x2="189.50" y2="436.00" stroke="#333" stroke-width="0.7" stroke-dasharray="4 2"/>
<line x1="183.00" y1="431.50" x2="215.00" y2="431.50" stroke="#1a1a1a" stroke-width="0.9"/>
<polygon points="189.60,431.50 184.60,432.80 184.60,430.20" fill="#111"/>
<polygon points="199.60,431.50 204.60,430.20 204.60,432.80" fill="#111"/>
<line x1="199.50" y1="425.00" x2="199.50" y2="436.00" stroke="#1a1a1a" stroke-width="0.9"/>
<text x="208.80" y="430.00" font-size="11" text-anchor="middle" font-weight="bold" fill="#0a0a0a" stroke="#0a0a0a" stroke-width="0.0" textLength="12" lengthAdjust="spacingAndGlyphs">30</text>
<line x1="258.50" y1="307.00" x2="258.50" y2="389.00" stroke="#1a1a1a" stroke-width="0.9"/>
<polygon points="258.50,351.30 259.80,356.30 257.20,356.30" fill="#111"/>
<polygon points="258.50,388.70 257.20,383.70 259.80,383.70" fill="#111"/>
<text x="256.20" y="328.00" font-size="11" text-anchor="middle" font-weight="bold" fill="#0a0a0a" stroke="#0a0a0a" stroke-width="0.0" transform="rotate(-90 256.20 328.00)" textLength="40" lengthAdjust="spacingAndGlyphs">ø110 h7</text>
<path d="M396.3,328.6 L395.8,334 L394,346 L391.4,346.8 L397.6,349.8 L391.8,352.6 L392.2,375.4 L395.7,377 L389.2,379.8 L393.8,382.2 L394,406.8 L408,406.8 L418.3,408" stroke="#222" stroke-width="0.8" fill="none" />
<line x1="396.30" y1="328.60" x2="409.50" y2="328.60" stroke="#000" stroke-width="1.6"/>
<path d="M409.5,328.6 L413.8,329.8" stroke="#111" stroke-width="1.0" fill="none" />
<line x1="396.00" y1="332.50" x2="414.00" y2="332.50" stroke="#111" stroke-width="0.8"/>
<line x1="414.00" y1="329.80" x2="414.00" y2="401.80" stroke="#000" stroke-width="1.6"/>
<path d="M414,346.4 C418,346.4 422,345.5 425.6,343.8" stroke="#111" stroke-width="0.8" fill="none" />
<path d="M414,394.5 C418,394.5 422,395.5 425.6,397" stroke="#111" stroke-width="0.8" fill="none" />
<line x1="420.50" y1="346.00" x2="420.50" y2="401.80" stroke="#222" stroke-width="0.8"/>
<line x1="414.60" y1="352.40" x2="420.80" y2="352.40" stroke="#000" stroke-width="1.8"/>
<line x1="414.60" y1="366.00" x2="420.80" y2="366.00" stroke="#000" stroke-width="1.8"/>
<line x1="414.60" y1="373.80" x2="420.80" y2="373.80" stroke="#000" stroke-width="1.8"/>
<line x1="414.60" y1="387.40" x2="420.80" y2="387.40" stroke="#000" stroke-width="1.8"/>
<path d="M420.4,350 L425.6,348.8" stroke="#333" stroke-width="0.6" fill="none" />
<path d="M420.4,368.3 L425.6,367.1" stroke="#333" stroke-width="0.6" fill="none" />
<path d="M420.4,371.6 L425.6,372.8" stroke="#333" stroke-width="0.6" fill="none" />
<path d="M420.4,390 L425.6,391.2" stroke="#333" stroke-width="0.6" fill="none" />
<line x1="416.50" y1="352.40" x2="416.50" y2="366.00" stroke="#888" stroke-width="0.5"/>
<line x1="416.50" y1="373.80" x2="416.50" y2="387.40" stroke="#888" stroke-width="0.5"/>
<line x1="414.00" y1="401.80" x2="420.40" y2="401.80" stroke="#000" stroke-width="1.2"/>
<rect x="418.50" y="402.50" width="6.00" height="6.00" stroke="#111" stroke-width="0.9" fill="none"/>
<line x1="424.80" y1="402.20" x2="424.80" y2="408.00" stroke="#000" stroke-width="1.4"/>
<line x1="421.50" y1="402.20" x2="421.50" y2="408.00" stroke="#444" stroke-width="0.6"/>
<line x1="426.50" y1="336.70" x2="426.50" y2="403.30" stroke="#111" stroke-width="1.0"/>
<line x1="429.90" y1="336.70" x2="429.90" y2="403.30" stroke="#000" stroke-width="1.6"/>
<line x1="426.80" y1="336.50" x2="430.00" y2="336.50" stroke="#111" stroke-width="0.8"/>
<line x1="426.80" y1="403.50" x2="430.40" y2="403.50" stroke="#000" stroke-width="1.0"/>
<line x1="425.50" y1="303.40" x2="425.50" y2="337.70" stroke="#1a1a1a" stroke-width="0.9"/>
<line x1="429.50" y1="303.40" x2="429.50" y2="336.70" stroke="#111" stroke-width="0.9"/>
<line x1="430.50" y1="318.40" x2="430.50" y2="425.00" stroke="#1a1a1a" stroke-width="0.9"/>
<line x1="454.50" y1="303.40" x2="454.50" y2="375.80" stroke="#1a1a1a" stroke-width="0.9"/>
<line x1="405.00" y1="304.50" x2="456.60" y2="304.50" stroke="#1a1a1a" stroke-width="0.9"/>
<polygon points="425.40,304.50 420.40,305.80 420.40,303.20" fill="#111"/>
<polygon points="429.20,304.50 434.20,303.20 434.20,305.80" fill="#111"/>
<polygon points="430.60,304.50 435.60,303.20 435.60,305.80" fill="#111"/>
<polygon points="454.60,304.50 449.60,305.80 449.60,303.20" fill="#111"/>
<text x="412.30" y="302.60" font-size="11" text-anchor="middle" font-weight="bold" fill="#0a0a0a" stroke="#0a0a0a" stroke-width="0.0" textLength="11.5" lengthAdjust="spacingAndGlyphs">10</text>
<text x="442.00" y="302.60" font-size="11" text-anchor="middle" font-weight="bold" fill="#0a0a0a" stroke="#0a0a0a" stroke-width="0.0" textLength="12" lengthAdjust="spacingAndGlyphs">75</text>
<line x1="419.00" y1="319.50" x2="453.00" y2="319.50" stroke="#1a1a1a" stroke-width="0.9"/>
<polygon points="429.20,319.50 424.20,320.80 424.20,318.20" fill="#111"/>
<polygon points="430.60,319.50 435.60,318.20 435.60,320.80" fill="#111"/>
<text x="444.30" y="317.60" font-size="11" text-anchor="middle" font-weight="bold" fill="#0a0a0a" stroke="#0a0a0a" stroke-width="0.0" textLength="15.5" lengthAdjust="spacingAndGlyphs">3,5</text>
<line x1="432.00" y1="363.80" x2="454.00" y2="363.80" stroke="#000" stroke-width="1.8"/>
<line x1="454.00" y1="364.50" x2="470.40" y2="364.50" stroke="#1a1a1a" stroke-width="0.7"/>
<line x1="430.60" y1="375.50" x2="470.40" y2="375.50" stroke="#1a1a1a" stroke-width="0.7"/>
<line x1="430.60" y1="348.50" x2="490.00" y2="348.50" stroke="#1a1a1a" stroke-width="0.9"/>
<line x1="430.60" y1="391.50" x2="453.00" y2="391.50" stroke="#1a1a1a" stroke-width="0.9"/>
<line x1="478.00" y1="391.50" x2="490.00" y2="391.50" stroke="#1a1a1a" stroke-width="0.9"/>
<line x1="469.50" y1="354.60" x2="469.50" y2="417.00" stroke="#1a1a1a" stroke-width="0.9"/>
<polygon points="469.50,364.60 468.20,359.60 470.80,359.60" fill="#111"/>
<polygon points="469.50,375.80 470.80,380.80 468.20,380.80" fill="#111"/>
<text x="466.80" y="398.70" font-size="11" text-anchor="middle" font-weight="bold" fill="#0a0a0a" stroke="#0a0a0a" stroke-width="0.0" transform="rotate(-90 466.80 398.70)" textLength="30" lengthAdjust="spacingAndGlyphs">ø35 j6</text>
<line x1="388.00" y1="370.50" x2="474.00" y2="370.50" stroke="#555" stroke-width="0.9" stroke-dasharray="7 2 1.5 2"/>
<text x="398.60" y="365.60" font-size="11.5" text-anchor="start" font-weight="bold" fill="#0a0a0a" stroke="#0a0a0a" stroke-width="0.0" textLength="9.4" lengthAdjust="spacingAndGlyphs">/2</text>
<text x="398.60" y="382.60" font-size="11.5" text-anchor="start" font-weight="bold" fill="#0a0a0a" stroke="#0a0a0a" stroke-width="0.0" textLength="9.4" lengthAdjust="spacingAndGlyphs">/3</text>
<line x1="420.50" y1="408.00" x2="420.50" y2="436.00" stroke="#333" stroke-width="0.7" stroke-dasharray="4 2"/>
<line x1="414.00" y1="431.50" x2="446.00" y2="431.50" stroke="#1a1a1a" stroke-width="0.9"/>
<polygon points="420.60,431.50 415.60,432.80 415.60,430.20" fill="#111"/>
<polygon points="430.60,431.50 435.60,430.20 435.60,432.80" fill="#111"/>
<line x1="430.50" y1="425.00" x2="430.50" y2="436.00" stroke="#1a1a1a" stroke-width="0.9"/>
<text x="439.80" y="430.00" font-size="11" text-anchor="middle" font-weight="bold" fill="#0a0a0a" stroke="#0a0a0a" stroke-width="0.0" textLength="12" lengthAdjust="spacingAndGlyphs">30</text>
<line x1="489.50" y1="306.00" x2="489.50" y2="393.00" stroke="#1a1a1a" stroke-width="0.9"/>
<polygon points="489.50,348.10 490.80,353.10 488.20,353.10" fill="#111"/>
<polygon points="489.50,391.90 488.20,386.90 490.80,386.90" fill="#111"/>
<text x="487.20" y="328.00" font-size="11" text-anchor="middle" font-weight="bold" fill="#0a0a0a" stroke="#0a0a0a" stroke-width="0.0" transform="rotate(-90 487.20 328.00)" textLength="40" lengthAdjust="spacingAndGlyphs">ø130 h7</text>
<path d="M633.3,328.6 L632.8,334 L631,346 L628.4,346.8 L634.6,349.8 L628.8,352.6 L629.2,375.4 L632.7,377 L626.2,379.8 L630.8,382.2 L631,406.8 L645,406.8 L655.3,408" stroke="#222" stroke-width="0.8" fill="none" />
<line x1="633.30" y1="328.60" x2="646.50" y2="328.60" stroke="#000" stroke-width="1.6"/>
<path d="M646.5,328.6 L650.8,329.8" stroke="#111" stroke-width="1.0" fill="none" />
<line x1="633.00" y1="332.50" x2="651.00" y2="332.50" stroke="#111" stroke-width="0.8"/>
<line x1="651.00" y1="329.80" x2="651.00" y2="401.80" stroke="#000" stroke-width="1.6"/>
<path d="M651,346.4 C655,346.4 659,345.5 662.6,343.8" stroke="#111" stroke-width="0.8" fill="none" />
<path d="M651,394.5 C655,394.5 659,395.5 662.6,397" stroke="#111" stroke-width="0.8" fill="none" />
<line x1="657.50" y1="346.00" x2="657.50" y2="401.80" stroke="#222" stroke-width="0.8"/>
<line x1="651.60" y1="352.40" x2="657.80" y2="352.40" stroke="#000" stroke-width="1.8"/>
<line x1="651.60" y1="366.00" x2="657.80" y2="366.00" stroke="#000" stroke-width="1.8"/>
<line x1="651.60" y1="373.80" x2="657.80" y2="373.80" stroke="#000" stroke-width="1.8"/>
<line x1="651.60" y1="387.40" x2="657.80" y2="387.40" stroke="#000" stroke-width="1.8"/>
<path d="M657.4,350 L662.6,348.8" stroke="#333" stroke-width="0.6" fill="none" />
<path d="M657.4,368.3 L662.6,367.1" stroke="#333" stroke-width="0.6" fill="none" />
<path d="M657.4,371.6 L662.6,372.8" stroke="#333" stroke-width="0.6" fill="none" />
<path d="M657.4,390 L662.6,391.2" stroke="#333" stroke-width="0.6" fill="none" />
<line x1="653.50" y1="352.40" x2="653.50" y2="366.00" stroke="#888" stroke-width="0.5"/>
<line x1="653.50" y1="373.80" x2="653.50" y2="387.40" stroke="#888" stroke-width="0.5"/>
<line x1="651.00" y1="401.80" x2="657.40" y2="401.80" stroke="#000" stroke-width="1.2"/>
<rect x="655.50" y="402.50" width="6.00" height="6.00" stroke="#111" stroke-width="0.9" fill="none"/>
<line x1="661.80" y1="402.20" x2="661.80" y2="408.00" stroke="#000" stroke-width="1.4"/>
<line x1="658.50" y1="402.20" x2="658.50" y2="408.00" stroke="#444" stroke-width="0.6"/>
<line x1="663.50" y1="327.40" x2="663.50" y2="412.60" stroke="#111" stroke-width="1.0"/>
<line x1="666.90" y1="327.40" x2="666.90" y2="412.60" stroke="#000" stroke-width="1.6"/>
<line x1="663.80" y1="327.50" x2="667.00" y2="327.50" stroke="#111" stroke-width="0.8"/>
<line x1="663.80" y1="412.50" x2="667.40" y2="412.50" stroke="#000" stroke-width="1.0"/>
<line x1="662.50" y1="303.40" x2="662.50" y2="328.40" stroke="#1a1a1a" stroke-width="0.9"/>
<line x1="666.50" y1="303.40" x2="666.50" y2="327.40" stroke="#111" stroke-width="0.9"/>
<line x1="667.50" y1="318.40" x2="667.50" y2="425.00" stroke="#1a1a1a" stroke-width="0.9"/>
<line x1="691.50" y1="303.40" x2="691.50" y2="375.80" stroke="#1a1a1a" stroke-width="0.9"/>
<line x1="642.00" y1="304.50" x2="693.60" y2="304.50" stroke="#1a1a1a" stroke-width="0.9"/>
<polygon points="662.40,304.50 657.40,305.80 657.40,303.20" fill="#111"/>
<polygon points="666.20,304.50 671.20,303.20 671.20,305.80" fill="#111"/>
<polygon points="667.60,304.50 672.60,303.20 672.60,305.80" fill="#111"/>
<polygon points="691.60,304.50 686.60,305.80 686.60,303.20" fill="#111"/>
<text x="649.30" y="302.60" font-size="11" text-anchor="middle" font-weight="bold" fill="#0a0a0a" stroke="#0a0a0a" stroke-width="0.0" textLength="11.5" lengthAdjust="spacingAndGlyphs">10</text>
<text x="679.00" y="302.60" font-size="11" text-anchor="middle" font-weight="bold" fill="#0a0a0a" stroke="#0a0a0a" stroke-width="0.0" textLength="12" lengthAdjust="spacingAndGlyphs">75</text>
<line x1="656.00" y1="319.50" x2="690.00" y2="319.50" stroke="#1a1a1a" stroke-width="0.9"/>
<polygon points="666.20,319.50 661.20,320.80 661.20,318.20" fill="#111"/>
<polygon points="667.60,319.50 672.60,318.20 672.60,320.80" fill="#111"/>
<text x="681.30" y="317.60" font-size="11" text-anchor="middle" font-weight="bold" fill="#0a0a0a" stroke="#0a0a0a" stroke-width="0.0" textLength="15.5" lengthAdjust="spacingAndGlyphs">3,5</text>
<line x1="669.00" y1="363.80" x2="691.00" y2="363.80" stroke="#000" stroke-width="1.8"/>
<line x1="691.00" y1="364.50" x2="707.40" y2="364.50" stroke="#1a1a1a" stroke-width="0.7"/>
<line x1="667.60" y1="375.50" x2="707.40" y2="375.50" stroke="#1a1a1a" stroke-width="0.7"/>
<line x1="667.60" y1="339.50" x2="726.40" y2="339.50" stroke="#1a1a1a" stroke-width="0.9"/>
<line x1="667.60" y1="400.50" x2="690.00" y2="400.50" stroke="#1a1a1a" stroke-width="0.9"/>
<line x1="714.40" y1="400.50" x2="726.40" y2="400.50" stroke="#1a1a1a" stroke-width="0.9"/>
<line x1="706.50" y1="354.60" x2="706.50" y2="417.00" stroke="#1a1a1a" stroke-width="0.9"/>
<polygon points="706.50,364.60 705.20,359.60 707.80,359.60" fill="#111"/>
<polygon points="706.50,375.80 707.80,380.80 705.20,380.80" fill="#111"/>
<text x="703.80" y="398.70" font-size="11" text-anchor="middle" font-weight="bold" fill="#0a0a0a" stroke="#0a0a0a" stroke-width="0.0" transform="rotate(-90 703.80 398.70)" textLength="30" lengthAdjust="spacingAndGlyphs">ø35 j6</text>
<line x1="625.00" y1="370.50" x2="711.00" y2="370.50" stroke="#555" stroke-width="0.9" stroke-dasharray="7 2 1.5 2"/>
<text x="635.60" y="365.60" font-size="11.5" text-anchor="start" font-weight="bold" fill="#0a0a0a" stroke="#0a0a0a" stroke-width="0.0" textLength="9.4" lengthAdjust="spacingAndGlyphs">/2</text>
<text x="635.60" y="382.60" font-size="11.5" text-anchor="start" font-weight="bold" fill="#0a0a0a" stroke="#0a0a0a" stroke-width="0.0" textLength="9.4" lengthAdjust="spacingAndGlyphs">/3</text>
<line x1="657.50" y1="408.00" x2="657.50" y2="436.00" stroke="#333" stroke-width="0.7" stroke-dasharray="4 2"/>
<line x1="651.00" y1="431.50" x2="683.00" y2="431.50" stroke="#1a1a1a" stroke-width="0.9"/>
<polygon points="657.60,431.50 652.60,432.80 652.60,430.20" fill="#111"/>
<polygon points="667.60,431.50 672.60,430.20 672.60,432.80" fill="#111"/>
<line x1="667.50" y1="425.00" x2="667.50" y2="436.00" stroke="#1a1a1a" stroke-width="0.9"/>
<text x="676.80" y="430.00" font-size="11" text-anchor="middle" font-weight="bold" fill="#0a0a0a" stroke="#0a0a0a" stroke-width="0.0" textLength="12" lengthAdjust="spacingAndGlyphs">30</text>
<line x1="725.50" y1="339.30" x2="725.50" y2="400.70" stroke="#1a1a1a" stroke-width="0.9"/>
<polygon points="725.50,339.30 726.80,344.30 724.20,344.30" fill="#111"/>
<polygon points="725.50,400.70 724.20,395.70 726.80,395.70" fill="#111"/>
<text x="723.40" y="370.50" font-size="11" text-anchor="middle" font-weight="bold" fill="#0a0a0a" stroke="#0a0a0a" stroke-width="0.0" transform="rotate(-90 723.40 370.50)" textLength="41" lengthAdjust="spacingAndGlyphs">ø180 h7</text>
<rect x="156.50" y="464.50" width="449.00" height="220.00" stroke="#111" stroke-width="1.0" fill="none"/>
<text x="176.00" y="487.40" font-size="12.3" text-anchor="start" font-weight="bold" fill="#0a0a0a" stroke="#0a0a0a" stroke-width="0.0" textLength="76" lengthAdjust="spacingAndGlyphs">Выходной вал</text>
<text x="326.60" y="487.40" font-size="12.3" text-anchor="start" font-weight="bold" fill="#0a0a0a" stroke="#0a0a0a" stroke-width="0.0" textLength="124.4" lengthAdjust="spacingAndGlyphs">Входной полый вал</text>
<text x="500.00" y="487.40" font-size="12.3" text-anchor="start" font-weight="bold" fill="#0a0a0a" stroke="#0a0a0a" stroke-width="0.0" textLength="54" lengthAdjust="spacingAndGlyphs">Входной</text>
<text x="562.00" y="487.40" font-size="12.3" text-anchor="start" font-weight="bold" fill="#0a0a0a" stroke="#0a0a0a" stroke-width="0.0" textLength="22.6" lengthAdjust="spacingAndGlyphs">вал</text>
<circle cx="229.60" cy="574.60" r="33.70" stroke="#111" stroke-width="0.8" fill="none"/>
<circle cx="229.60" cy="574.60" r="7.50" stroke="#111" stroke-width="1.2" fill="none"/>
<path d="M221.4,541.8 L221.4,535.4 L238,535.4 L238,541.8" stroke="#111" stroke-width="0.8" fill="none" />
<line x1="221.50" y1="513.00" x2="221.50" y2="533.60" stroke="#111" stroke-width="0.8"/>
<line x1="238.50" y1="513.00" x2="238.50" y2="533.60" stroke="#111" stroke-width="0.8"/>
<line x1="212.00" y1="515.50" x2="221.40" y2="515.50" stroke="#111" stroke-width="0.8"/>
<line x1="238.00" y1="515.50" x2="291.00" y2="515.50" stroke="#111" stroke-width="0.8"/>
<polygon points="221.40,515.50 215.90,516.80 215.90,514.20" fill="#111"/>
<polygon points="238.00,515.50 243.50,514.20 243.50,516.80" fill="#111"/>
<text x="261.50" y="511.00" font-size="12" text-anchor="middle" font-weight="bold" fill="#0a0a0a" stroke="#0a0a0a" stroke-width="0.0" textLength="13" lengthAdjust="spacingAndGlyphs">10</text>
<line x1="229.50" y1="512.00" x2="229.50" y2="643.40" stroke="#111" stroke-width="0.8"/>
<line x1="186.00" y1="574.50" x2="272.60" y2="574.50" stroke="#111" stroke-width="0.8"/>
<line x1="170.00" y1="535.50" x2="220.00" y2="535.50" stroke="#111" stroke-width="0.8"/>
<line x1="170.00" y1="608.50" x2="225.00" y2="608.50" stroke="#111" stroke-width="0.8"/>
<line x1="173.50" y1="535.40" x2="173.50" y2="608.40" stroke="#111" stroke-width="0.8"/>
<polygon points="173.50,535.40 174.80,540.90 172.20,540.90" fill="#111"/>
<polygon points="173.50,608.40 172.20,602.90 174.80,602.90" fill="#111"/>
<text x="169.40" y="577.00" font-size="12" text-anchor="middle" font-weight="bold" fill="#0a0a0a" stroke="#0a0a0a" stroke-width="0.0" transform="rotate(-90 169.40 577.00)" textLength="14" lengthAdjust="spacingAndGlyphs">38</text>
<line x1="196.50" y1="582.00" x2="196.50" y2="668.50" stroke="#111" stroke-width="0.8"/>
<line x1="263.50" y1="582.00" x2="263.50" y2="668.50" stroke="#111" stroke-width="0.8"/>
<line x1="196.40" y1="667.50" x2="263.60" y2="667.50" stroke="#111" stroke-width="0.8"/>
<polygon points="196.40,667.50 201.90,666.20 201.90,668.80" fill="#111"/>
<polygon points="263.60,667.50 258.10,668.80 258.10,666.20" fill="#111"/>
<text x="233.80" y="662.00" font-size="12.5" text-anchor="middle" font-weight="bold" fill="#0a0a0a" stroke="#0a0a0a" stroke-width="0.0" textLength="35.6" lengthAdjust="spacingAndGlyphs">35 j6</text>
<line x1="222.50" y1="579.00" x2="222.50" y2="637.00" stroke="#111" stroke-width="0.8"/>
<line x1="237.50" y1="579.00" x2="237.50" y2="637.00" stroke="#111" stroke-width="0.8"/>
<line x1="211.00" y1="636.50" x2="310.00" y2="636.50" stroke="#111" stroke-width="0.8"/>
<polygon points="222.40,636.50 216.90,637.80 216.90,635.20" fill="#111"/>
<polygon points="237.40,636.50 242.90,635.20 242.90,637.80" fill="#111"/>
<text x="266.00" y="634.00" font-size="12" text-anchor="start" font-weight="bold" fill="#0a0a0a" stroke="#0a0a0a" stroke-width="0.0" textLength="46" lengthAdjust="spacingAndGlyphs">M10x25</text>
<circle cx="385.40" cy="574.60" r="30.00" stroke="#111" stroke-width="0.8" fill="none"/>
<path d="M379.40,561.07 A14.8,14.8 0 1 0 391.40,561.07 L391.40,556.4 L379.40,556.4 Z" stroke="#111" stroke-width="0.8" fill="none" />
<line x1="379.50" y1="528.00" x2="379.50" y2="554.00" stroke="#111" stroke-width="0.8"/>
<line x1="391.50" y1="528.00" x2="391.50" y2="554.00" stroke="#111" stroke-width="0.8"/>
<line x1="370.00" y1="530.50" x2="402.00" y2="530.50" stroke="#111" stroke-width="0.8"/>
<polygon points="379.40,530.50 373.90,531.80 373.90,529.20" fill="#111"/>
<polygon points="391.40,530.50 396.90,529.20 396.90,531.80" fill="#111"/>
<text x="385.30" y="527.00" font-size="12" text-anchor="middle" font-weight="bold" fill="#0a0a0a" stroke="#0a0a0a" stroke-width="0.0" textLength="16.6" lengthAdjust="spacingAndGlyphs">G2</text>
<line x1="385.50" y1="533.60" x2="385.50" y2="639.40" stroke="#111" stroke-width="0.8"/>
<line x1="349.00" y1="574.50" x2="424.00" y2="574.50" stroke="#111" stroke-width="0.8"/>
<line x1="391.40" y1="556.50" x2="447.00" y2="556.50" stroke="#111" stroke-width="0.8"/>
<line x1="391.00" y1="589.50" x2="447.00" y2="589.50" stroke="#111" stroke-width="0.8"/>
<line x1="444.50" y1="556.40" x2="444.50" y2="589.30" stroke="#111" stroke-width="0.8"/>
<polygon points="444.50,556.40 445.80,561.90 443.20,561.90" fill="#111"/>
<polygon points="444.50,589.30 443.20,583.80 445.80,583.80" fill="#111"/>
<text x="439.60" y="573.50" font-size="12" text-anchor="middle" font-weight="bold" fill="#0a0a0a" stroke="#0a0a0a" stroke-width="0.0" transform="rotate(-90 439.60 573.50)" textLength="15" lengthAdjust="spacingAndGlyphs">G1</text>
<line x1="370.50" y1="580.00" x2="370.50" y2="637.40" stroke="#111" stroke-width="0.8"/>
<line x1="400.50" y1="580.00" x2="400.50" y2="637.40" stroke="#111" stroke-width="0.8"/>
<line x1="359.00" y1="637.50" x2="453.00" y2="637.50" stroke="#111" stroke-width="0.8"/>
<polygon points="370.40,637.50 364.90,638.80 364.90,636.20" fill="#111"/>
<polygon points="400.40,637.50 405.90,636.20 405.90,638.80" fill="#111"/>
<text x="413.40" y="633.00" font-size="12" text-anchor="start" font-weight="bold" fill="#0a0a0a" stroke="#0a0a0a" stroke-width="0.0" textLength="37" lengthAdjust="spacingAndGlyphs">G (F7)</text>
<circle cx="547.40" cy="572.40" r="21.00" stroke="#111" stroke-width="0.8" fill="none"/>
<circle cx="547.40" cy="572.40" r="4.80" stroke="#111" stroke-width="1.2" fill="none"/>
<path d="M541.4,552.2 L541.4,548 L552.6,548 L552.6,552.4" stroke="#111" stroke-width="0.8" fill="none" />
<line x1="541.50" y1="533.00" x2="541.50" y2="548.00" stroke="#111" stroke-width="0.8"/>
<line x1="552.50" y1="533.00" x2="552.50" y2="548.00" stroke="#111" stroke-width="0.8"/>
<line x1="546.50" y1="533.00" x2="546.50" y2="548.00" stroke="#111" stroke-width="0.8"/>
<line x1="533.00" y1="534.50" x2="584.00" y2="534.50" stroke="#111" stroke-width="0.8"/>
<polygon points="541.40,534.50 535.90,535.80 535.90,533.20" fill="#111"/>
<polygon points="552.60,534.50 558.10,533.20 558.10,535.80" fill="#111"/>
<text x="571.50" y="531.40" font-size="12" text-anchor="middle" font-weight="bold" fill="#0a0a0a" stroke="#0a0a0a" stroke-width="0.0">6</text>
<line x1="547.50" y1="533.00" x2="547.50" y2="616.60" stroke="#111" stroke-width="0.8"/>
<line x1="520.00" y1="572.50" x2="574.00" y2="572.50" stroke="#111" stroke-width="0.8"/>
<line x1="510.00" y1="548.50" x2="552.60" y2="548.50" stroke="#111" stroke-width="0.8"/>
<line x1="509.00" y1="593.50" x2="542.00" y2="593.50" stroke="#111" stroke-width="0.8"/>
<line x1="512.50" y1="548.00" x2="512.50" y2="593.40" stroke="#111" stroke-width="0.8"/>
<polygon points="512.50,548.00 513.80,553.50 511.20,553.50" fill="#111"/>
<polygon points="512.50,593.40 511.20,587.90 513.80,587.90" fill="#111"/>
<text x="508.60" y="568.50" font-size="12" text-anchor="middle" font-weight="bold" fill="#0a0a0a" stroke="#0a0a0a" stroke-width="0.0" transform="rotate(-90 508.60 568.50)" textLength="25" lengthAdjust="spacingAndGlyphs">21,5</text>
<line x1="526.50" y1="580.00" x2="526.50" y2="637.00" stroke="#111" stroke-width="0.8"/>
<line x1="568.50" y1="580.00" x2="568.50" y2="637.00" stroke="#111" stroke-width="0.8"/>
<line x1="542.50" y1="577.00" x2="542.50" y2="611.40" stroke="#111" stroke-width="0.8"/>
<line x1="552.50" y1="577.00" x2="552.50" y2="611.40" stroke="#111" stroke-width="0.8"/>
<line x1="532.00" y1="611.50" x2="588.00" y2="611.50" stroke="#111" stroke-width="0.8"/>
<polygon points="542.40,611.50 536.90,612.80 536.90,610.20" fill="#111"/>
<polygon points="552.40,611.50 557.90,610.20 557.90,612.80" fill="#111"/>
<text x="571.40" y="608.60" font-size="12" text-anchor="start" font-weight="bold" fill="#0a0a0a" stroke="#0a0a0a" stroke-width="0.0" textLength="17.6" lengthAdjust="spacingAndGlyphs">M5</text>
<line x1="525.00" y1="635.50" x2="570.00" y2="635.50" stroke="#111" stroke-width="0.8"/>
<polygon points="526.40,635.50 531.90,634.20 531.90,636.80" fill="#111"/>
<polygon points="568.40,635.50 562.90,636.80 562.90,634.20" fill="#111"/>
<text x="529.00" y="632.00" font-size="12" text-anchor="start" font-weight="bold" fill="#0a0a0a" stroke="#0a0a0a" stroke-width="0.0" textLength="13" lengthAdjust="spacingAndGlyphs">19</text>
<text x="544.60" y="632.00" font-size="12" text-anchor="start" font-weight="bold" fill="#0a0a0a" stroke="#0a0a0a" stroke-width="0.0" textLength="18" lengthAdjust="spacingAndGlyphs">(j6)</text>
</svg>
</body></html>
